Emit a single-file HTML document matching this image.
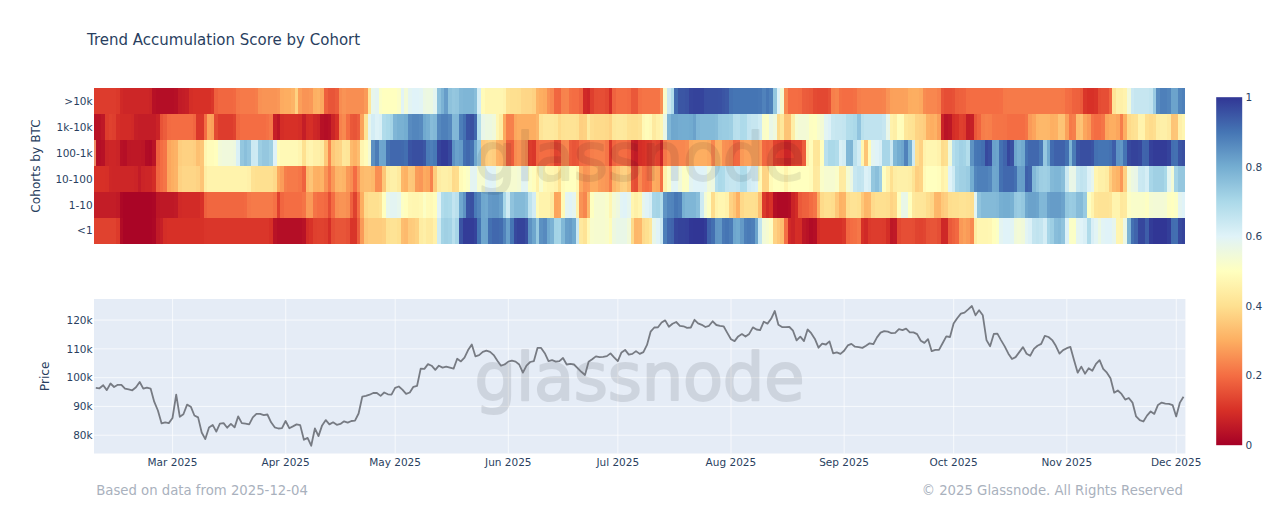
<!DOCTYPE html>
<html lang="en"><head><meta charset="utf-8"><title>Trend Accumulation Score by Cohort</title>
<style>
html,body{margin:0;padding:0;background:#fff}
body{width:1280px;height:526px;overflow:hidden;position:relative;font-family:"DejaVu Sans","Liberation Sans",sans-serif}
svg{position:absolute;left:0;top:0}
text{font-family:"DejaVu Sans","Liberation Sans",sans-serif;fill:#2a3f5f}
.tk{font-size:10.5px}
.ax{font-size:12.2px}
.ft{font-size:13.25px;fill:#a9b1bd}
</style></head><body>
<svg width="1280" height="526" viewBox="0 0 1280 526">
<defs>
<linearGradient id="cb" x1="0" y1="1" x2="0" y2="0">
<stop offset="0%" stop-color="#a50026"/><stop offset="10%" stop-color="#d73027"/><stop offset="20%" stop-color="#f46d43"/><stop offset="30%" stop-color="#fdae61"/><stop offset="40%" stop-color="#fee090"/><stop offset="50%" stop-color="#ffffbf"/><stop offset="60%" stop-color="#e0f3f8"/><stop offset="70%" stop-color="#abd9e9"/><stop offset="80%" stop-color="#74add1"/><stop offset="90%" stop-color="#4575b4"/><stop offset="100%" stop-color="#313695"/></linearGradient></defs>
<rect x="0" y="0" width="1280" height="526" fill="#fff"/>
<text x="87" y="44.6" style="font-size:15px">Trend Accumulation Score by Cohort</text>
<g shape-rendering="crispEdges">
<rect x="94.00" y="88.00" width="21.95" height="25.98" fill="#dd3c2d"/><rect x="115.90" y="88.00" width="3.70" height="25.98" fill="#db392b"/><rect x="119.55" y="88.00" width="3.70" height="25.98" fill="#d02927"/><rect x="123.20" y="88.00" width="25.60" height="25.98" fill="#cd2627"/><rect x="148.75" y="88.00" width="3.70" height="25.98" fill="#ca2427"/><rect x="152.40" y="88.00" width="3.70" height="25.98" fill="#b71126"/><rect x="156.05" y="88.00" width="18.30" height="25.98" fill="#b40e26"/><rect x="174.30" y="88.00" width="3.70" height="25.98" fill="#b61026"/><rect x="177.95" y="88.00" width="3.70" height="25.98" fill="#c11b27"/><rect x="181.60" y="88.00" width="3.70" height="25.98" fill="#c31d27"/><rect x="185.25" y="88.00" width="3.70" height="25.98" fill="#c61f27"/><rect x="188.90" y="88.00" width="3.70" height="25.98" fill="#d42e27"/><rect x="192.55" y="88.00" width="18.30" height="25.98" fill="#d73027"/><rect x="210.81" y="88.00" width="3.70" height="25.98" fill="#da372a"/><rect x="214.46" y="88.00" width="3.70" height="25.98" fill="#ee603d"/><rect x="218.11" y="88.00" width="14.65" height="25.98" fill="#f16740"/><rect x="232.71" y="88.00" width="3.70" height="25.98" fill="#f26941"/><rect x="236.36" y="88.00" width="3.70" height="25.98" fill="#f57748"/><rect x="240.01" y="88.00" width="14.65" height="25.98" fill="#f67a49"/><rect x="254.61" y="88.00" width="3.70" height="25.98" fill="#f67d4a"/><rect x="258.26" y="88.00" width="3.70" height="25.98" fill="#f99154"/><rect x="261.91" y="88.00" width="14.65" height="25.98" fill="#f99455"/><rect x="276.51" y="88.00" width="3.70" height="25.98" fill="#fa9757"/><rect x="280.16" y="88.00" width="3.70" height="25.98" fill="#fdab60"/><rect x="283.81" y="88.00" width="7.35" height="25.98" fill="#fdae61"/><rect x="291.11" y="88.00" width="3.70" height="25.98" fill="#fdb467"/><rect x="294.76" y="88.00" width="3.70" height="25.98" fill="#fed282"/><rect x="298.41" y="88.00" width="3.70" height="25.98" fill="#fb9f5a"/><rect x="302.06" y="88.00" width="7.35" height="25.98" fill="#f99455"/><rect x="309.36" y="88.00" width="3.70" height="25.98" fill="#fa9857"/><rect x="313.01" y="88.00" width="3.70" height="25.98" fill="#fdb063"/><rect x="316.66" y="88.00" width="3.70" height="25.98" fill="#fdb366"/><rect x="320.31" y="88.00" width="3.70" height="25.98" fill="#fca95f"/><rect x="323.96" y="88.00" width="3.70" height="25.98" fill="#ee603d"/><rect x="327.61" y="88.00" width="7.35" height="25.98" fill="#e85538"/><rect x="334.91" y="88.00" width="3.70" height="25.98" fill="#ec5c3b"/><rect x="338.56" y="88.00" width="3.70" height="25.98" fill="#f88c51"/><rect x="342.21" y="88.00" width="3.70" height="25.98" fill="#f99355"/><rect x="345.86" y="88.00" width="3.70" height="25.98" fill="#f98e52"/><rect x="349.51" y="88.00" width="14.65" height="25.98" fill="#f88e52"/><rect x="364.11" y="88.00" width="3.70" height="25.98" fill="#fa9a58"/><rect x="367.76" y="88.00" width="3.70" height="25.98" fill="#fee79a"/><rect x="371.41" y="88.00" width="3.70" height="25.98" fill="#e7f6eb"/><rect x="375.06" y="88.00" width="3.70" height="25.98" fill="#e4f4f1"/><rect x="378.71" y="88.00" width="3.70" height="25.98" fill="#fbfec6"/><rect x="382.36" y="88.00" width="14.65" height="25.98" fill="#ffffbf"/><rect x="396.96" y="88.00" width="3.70" height="25.98" fill="#fbfdc7"/><rect x="400.61" y="88.00" width="3.70" height="25.98" fill="#e2f4f5"/><rect x="404.26" y="88.00" width="3.70" height="25.98" fill="#f2fad7"/><rect x="407.91" y="88.00" width="3.70" height="25.98" fill="#e3f4f2"/><rect x="411.56" y="88.00" width="7.35" height="25.98" fill="#e0f3f8"/><rect x="418.86" y="88.00" width="3.70" height="25.98" fill="#e2f4f5"/><rect x="422.52" y="88.00" width="3.70" height="25.98" fill="#ebf7e4"/><rect x="426.17" y="88.00" width="7.35" height="25.98" fill="#ecf8e1"/><rect x="433.47" y="88.00" width="3.70" height="25.98" fill="#e4f5f0"/><rect x="437.12" y="88.00" width="3.70" height="25.98" fill="#8dc1dc"/><rect x="440.77" y="88.00" width="3.70" height="25.98" fill="#7bb2d4"/><rect x="444.42" y="88.00" width="3.70" height="25.98" fill="#679dc9"/><rect x="448.07" y="88.00" width="3.70" height="25.98" fill="#8ec2dc"/><rect x="451.72" y="88.00" width="3.70" height="25.98" fill="#95c7df"/><rect x="455.37" y="88.00" width="3.70" height="25.98" fill="#92c5de"/><rect x="459.02" y="88.00" width="3.70" height="25.98" fill="#82b8d7"/><rect x="462.67" y="88.00" width="11.00" height="25.98" fill="#7fb6d6"/><rect x="473.62" y="88.00" width="3.70" height="25.98" fill="#89beda"/><rect x="477.27" y="88.00" width="3.70" height="25.98" fill="#d5eef5"/><rect x="480.92" y="88.00" width="3.70" height="25.98" fill="#fffbb9"/><rect x="484.57" y="88.00" width="18.30" height="25.98" fill="#fff6b1"/><rect x="502.82" y="88.00" width="3.70" height="25.98" fill="#fff3ad"/><rect x="506.47" y="88.00" width="3.70" height="25.98" fill="#fee294"/><rect x="510.12" y="88.00" width="7.35" height="25.98" fill="#fee090"/><rect x="517.42" y="88.00" width="3.70" height="25.98" fill="#fedf8f"/><rect x="521.07" y="88.00" width="3.70" height="25.98" fill="#fed788"/><rect x="524.72" y="88.00" width="7.35" height="25.98" fill="#fed687"/><rect x="532.02" y="88.00" width="3.70" height="25.98" fill="#fed182"/><rect x="535.67" y="88.00" width="3.70" height="25.98" fill="#fdb366"/><rect x="539.32" y="88.00" width="3.70" height="25.98" fill="#fdae61"/><rect x="542.97" y="88.00" width="3.70" height="25.98" fill="#fcaa5f"/><rect x="546.62" y="88.00" width="3.70" height="25.98" fill="#f99154"/><rect x="550.27" y="88.00" width="3.70" height="25.98" fill="#f88850"/><rect x="553.92" y="88.00" width="3.70" height="25.98" fill="#f16640"/><rect x="557.57" y="88.00" width="3.70" height="25.98" fill="#f0653f"/><rect x="561.22" y="88.00" width="3.70" height="25.98" fill="#f7824d"/><rect x="564.87" y="88.00" width="3.70" height="25.98" fill="#f7844d"/><rect x="568.52" y="88.00" width="3.70" height="25.98" fill="#f47044"/><rect x="572.17" y="88.00" width="7.35" height="25.98" fill="#f46d43"/><rect x="579.47" y="88.00" width="3.70" height="25.98" fill="#ef633f"/><rect x="583.12" y="88.00" width="3.70" height="25.98" fill="#d02927"/><rect x="586.77" y="88.00" width="3.70" height="25.98" fill="#cc2527"/><rect x="590.42" y="88.00" width="3.70" height="25.98" fill="#de3f2e"/><rect x="594.07" y="88.00" width="3.70" height="25.98" fill="#e54d34"/><rect x="597.72" y="88.00" width="7.35" height="25.98" fill="#e64e35"/><rect x="605.02" y="88.00" width="3.70" height="25.98" fill="#e34832"/><rect x="608.67" y="88.00" width="3.70" height="25.98" fill="#d42e27"/><rect x="612.32" y="88.00" width="3.70" height="25.98" fill="#ef633f"/><rect x="615.97" y="88.00" width="11.00" height="25.98" fill="#f46d43"/><rect x="626.92" y="88.00" width="3.70" height="25.98" fill="#f36a42"/><rect x="630.57" y="88.00" width="7.35" height="25.98" fill="#ea5839"/><rect x="637.87" y="88.00" width="3.70" height="25.98" fill="#f47044"/><rect x="641.53" y="88.00" width="18.30" height="25.98" fill="#f57446"/><rect x="659.78" y="88.00" width="3.70" height="25.98" fill="#f98e52"/><rect x="663.43" y="88.00" width="3.70" height="25.98" fill="#f8fccb"/><rect x="667.08" y="88.00" width="3.70" height="25.98" fill="#cce9f2"/><rect x="670.73" y="88.00" width="3.70" height="25.98" fill="#b2ddeb"/><rect x="674.38" y="88.00" width="3.70" height="25.98" fill="#426cb0"/><rect x="678.03" y="88.00" width="7.35" height="25.98" fill="#3b56a4"/><rect x="685.33" y="88.00" width="3.70" height="25.98" fill="#3a53a3"/><rect x="688.98" y="88.00" width="3.70" height="25.98" fill="#36459c"/><rect x="692.63" y="88.00" width="7.35" height="25.98" fill="#35439b"/><rect x="699.93" y="88.00" width="3.70" height="25.98" fill="#35449c"/><rect x="703.58" y="88.00" width="3.70" height="25.98" fill="#394ea1"/><rect x="707.23" y="88.00" width="11.00" height="25.98" fill="#394fa1"/><rect x="718.18" y="88.00" width="3.70" height="25.98" fill="#3950a2"/><rect x="721.83" y="88.00" width="3.70" height="25.98" fill="#3b55a4"/><rect x="725.48" y="88.00" width="3.70" height="25.98" fill="#3c59a6"/><rect x="729.13" y="88.00" width="3.70" height="25.98" fill="#4471b2"/><rect x="732.78" y="88.00" width="25.60" height="25.98" fill="#4575b4"/><rect x="758.33" y="88.00" width="3.70" height="25.98" fill="#4777b5"/><rect x="761.98" y="88.00" width="3.70" height="25.98" fill="#5082bb"/><rect x="765.63" y="88.00" width="3.70" height="25.98" fill="#4777b5"/><rect x="769.28" y="88.00" width="3.70" height="25.98" fill="#4e80ba"/><rect x="772.93" y="88.00" width="3.70" height="25.98" fill="#95c7df"/><rect x="776.58" y="88.00" width="3.70" height="25.98" fill="#e0f3f7"/><rect x="780.23" y="88.00" width="3.70" height="25.98" fill="#f4fbd2"/><rect x="783.88" y="88.00" width="3.70" height="25.98" fill="#f88b51"/><rect x="787.53" y="88.00" width="11.00" height="25.98" fill="#f46d43"/><rect x="798.48" y="88.00" width="3.70" height="25.98" fill="#f36b42"/><rect x="802.13" y="88.00" width="3.70" height="25.98" fill="#ec5d3c"/><rect x="805.78" y="88.00" width="3.70" height="25.98" fill="#eb5b3b"/><rect x="809.43" y="88.00" width="3.70" height="25.98" fill="#ea5839"/><rect x="813.08" y="88.00" width="3.70" height="25.98" fill="#e44b33"/><rect x="816.73" y="88.00" width="11.00" height="25.98" fill="#e34832"/><rect x="827.68" y="88.00" width="3.70" height="25.98" fill="#e65036"/><rect x="831.33" y="88.00" width="3.70" height="25.98" fill="#f77f4b"/><rect x="834.98" y="88.00" width="3.70" height="25.98" fill="#f7844d"/><rect x="838.63" y="88.00" width="3.70" height="25.98" fill="#f47044"/><rect x="842.28" y="88.00" width="11.00" height="25.98" fill="#f46d43"/><rect x="853.23" y="88.00" width="3.70" height="25.98" fill="#f47044"/><rect x="856.88" y="88.00" width="3.70" height="25.98" fill="#f67e4b"/><rect x="860.54" y="88.00" width="21.95" height="25.98" fill="#f7814c"/><rect x="882.44" y="88.00" width="3.70" height="25.98" fill="#f7834d"/><rect x="886.09" y="88.00" width="3.70" height="25.98" fill="#f99355"/><rect x="889.74" y="88.00" width="3.70" height="25.98" fill="#fba05a"/><rect x="893.39" y="88.00" width="11.00" height="25.98" fill="#fba15b"/><rect x="904.34" y="88.00" width="3.70" height="25.98" fill="#fba25c"/><rect x="907.99" y="88.00" width="3.70" height="25.98" fill="#fdad60"/><rect x="911.64" y="88.00" width="7.35" height="25.98" fill="#fdae61"/><rect x="918.94" y="88.00" width="3.70" height="25.98" fill="#fca95f"/><rect x="922.59" y="88.00" width="3.70" height="25.98" fill="#f88c51"/><rect x="926.24" y="88.00" width="11.00" height="25.98" fill="#f8874f"/><rect x="937.19" y="88.00" width="3.70" height="25.98" fill="#f7804c"/><rect x="940.84" y="88.00" width="3.70" height="25.98" fill="#e95538"/><rect x="944.49" y="88.00" width="7.35" height="25.98" fill="#e64e35"/><rect x="951.79" y="88.00" width="3.70" height="25.98" fill="#e75136"/><rect x="955.44" y="88.00" width="3.70" height="25.98" fill="#ed5e3c"/><rect x="959.09" y="88.00" width="3.70" height="25.98" fill="#ee613d"/><rect x="962.74" y="88.00" width="3.70" height="25.98" fill="#ef623e"/><rect x="966.39" y="88.00" width="3.70" height="25.98" fill="#f36c42"/><rect x="970.04" y="88.00" width="29.25" height="25.98" fill="#f46d43"/><rect x="999.24" y="88.00" width="3.70" height="25.98" fill="#f46e44"/><rect x="1002.89" y="88.00" width="3.70" height="25.98" fill="#f67948"/><rect x="1006.54" y="88.00" width="54.80" height="25.98" fill="#f67a49"/><rect x="1061.29" y="88.00" width="3.70" height="25.98" fill="#f67948"/><rect x="1064.94" y="88.00" width="3.70" height="25.98" fill="#f46e44"/><rect x="1068.59" y="88.00" width="3.70" height="25.98" fill="#f36c42"/><rect x="1072.24" y="88.00" width="3.70" height="25.98" fill="#ef623e"/><rect x="1075.89" y="88.00" width="3.70" height="25.98" fill="#ee613d"/><rect x="1079.55" y="88.00" width="3.70" height="25.98" fill="#eb5b3b"/><rect x="1083.20" y="88.00" width="3.70" height="25.98" fill="#da362a"/><rect x="1086.85" y="88.00" width="7.35" height="25.98" fill="#d73027"/><rect x="1094.15" y="88.00" width="3.70" height="25.98" fill="#d93429"/><rect x="1097.80" y="88.00" width="3.70" height="25.98" fill="#e44b33"/><rect x="1101.45" y="88.00" width="7.35" height="25.98" fill="#e64e35"/><rect x="1108.75" y="88.00" width="3.70" height="25.98" fill="#f0643f"/><rect x="1112.40" y="88.00" width="3.70" height="25.98" fill="#fee497"/><rect x="1116.05" y="88.00" width="7.35" height="25.98" fill="#fef0a8"/><rect x="1123.35" y="88.00" width="3.70" height="25.98" fill="#fff3ad"/><rect x="1127.00" y="88.00" width="3.70" height="25.98" fill="#f0f9dc"/><rect x="1130.65" y="88.00" width="3.70" height="25.98" fill="#cce9f2"/><rect x="1134.30" y="88.00" width="14.65" height="25.98" fill="#c6e6f0"/><rect x="1148.90" y="88.00" width="3.70" height="25.98" fill="#c1e4ef"/><rect x="1152.55" y="88.00" width="3.70" height="25.98" fill="#9acbe2"/><rect x="1156.20" y="88.00" width="3.70" height="25.98" fill="#578bbf"/><rect x="1159.85" y="88.00" width="7.35" height="25.98" fill="#4e80ba"/><rect x="1167.15" y="88.00" width="3.70" height="25.98" fill="#5285bc"/><rect x="1170.80" y="88.00" width="7.35" height="25.98" fill="#6ca3cc"/><rect x="1178.10" y="88.00" width="3.70" height="25.98" fill="#5285bc"/><rect x="1181.75" y="88.00" width="3.70" height="25.98" fill="#4e80ba"/>
<rect x="94.00" y="113.93" width="7.35" height="25.98" fill="#b91326"/><rect x="101.30" y="113.93" width="3.70" height="25.98" fill="#be1827"/><rect x="104.95" y="113.93" width="3.70" height="25.98" fill="#dd3c2c"/><rect x="108.60" y="113.93" width="3.70" height="25.98" fill="#e0422f"/><rect x="112.25" y="113.93" width="3.70" height="25.98" fill="#de3f2e"/><rect x="115.90" y="113.93" width="3.70" height="25.98" fill="#d42e27"/><rect x="119.55" y="113.93" width="11.00" height="25.98" fill="#d22b27"/><rect x="130.50" y="113.93" width="3.70" height="25.98" fill="#d02927"/><rect x="134.15" y="113.93" width="3.70" height="25.98" fill="#c51f27"/><rect x="137.80" y="113.93" width="18.30" height="25.98" fill="#c31d27"/><rect x="156.05" y="113.93" width="3.70" height="25.98" fill="#ca2327"/><rect x="159.70" y="113.93" width="3.70" height="25.98" fill="#e85337"/><rect x="163.35" y="113.93" width="3.70" height="25.98" fill="#ec5d3c"/><rect x="167.00" y="113.93" width="3.70" height="25.98" fill="#f36b42"/><rect x="170.65" y="113.93" width="21.95" height="25.98" fill="#f46d43"/><rect x="192.55" y="113.93" width="3.70" height="25.98" fill="#f16640"/><rect x="196.20" y="113.93" width="7.35" height="25.98" fill="#da372a"/><rect x="203.51" y="113.93" width="3.70" height="25.98" fill="#f46d43"/><rect x="207.16" y="113.93" width="3.70" height="25.98" fill="#fca65d"/><rect x="210.81" y="113.93" width="3.70" height="25.98" fill="#fba05a"/><rect x="214.46" y="113.93" width="3.70" height="25.98" fill="#e34a33"/><rect x="218.11" y="113.93" width="14.65" height="25.98" fill="#dd3c2d"/><rect x="232.71" y="113.93" width="3.70" height="25.98" fill="#e0422f"/><rect x="236.36" y="113.93" width="3.70" height="25.98" fill="#f16740"/><rect x="240.01" y="113.93" width="25.60" height="25.98" fill="#f46d43"/><rect x="265.56" y="113.93" width="3.70" height="25.98" fill="#f57145"/><rect x="269.21" y="113.93" width="3.70" height="25.98" fill="#f67949"/><rect x="272.86" y="113.93" width="3.70" height="25.98" fill="#c61f27"/><rect x="276.51" y="113.93" width="3.70" height="25.98" fill="#bc1726"/><rect x="280.16" y="113.93" width="3.70" height="25.98" fill="#d42d27"/><rect x="283.81" y="113.93" width="14.65" height="25.98" fill="#d73027"/><rect x="298.41" y="113.93" width="3.70" height="25.98" fill="#d42d27"/><rect x="302.06" y="113.93" width="3.70" height="25.98" fill="#c41e27"/><rect x="305.71" y="113.93" width="3.70" height="25.98" fill="#d42d27"/><rect x="309.36" y="113.93" width="3.70" height="25.98" fill="#d62f27"/><rect x="313.01" y="113.93" width="3.70" height="25.98" fill="#ce2727"/><rect x="316.66" y="113.93" width="3.70" height="25.98" fill="#ca2427"/><rect x="320.31" y="113.93" width="3.70" height="25.98" fill="#b71126"/><rect x="323.96" y="113.93" width="3.70" height="25.98" fill="#b40e26"/><rect x="327.61" y="113.93" width="3.70" height="25.98" fill="#b71126"/><rect x="331.26" y="113.93" width="3.70" height="25.98" fill="#ca2427"/><rect x="334.91" y="113.93" width="3.70" height="25.98" fill="#d73027"/><rect x="338.56" y="113.93" width="3.70" height="25.98" fill="#f7814c"/><rect x="342.21" y="113.93" width="3.70" height="25.98" fill="#f88a50"/><rect x="345.86" y="113.93" width="3.70" height="25.98" fill="#f46e43"/><rect x="349.51" y="113.93" width="3.70" height="25.98" fill="#ea5839"/><rect x="353.16" y="113.93" width="3.70" height="25.98" fill="#e85538"/><rect x="356.81" y="113.93" width="3.70" height="25.98" fill="#ec5d3c"/><rect x="360.46" y="113.93" width="3.70" height="25.98" fill="#fba15b"/><rect x="364.11" y="113.93" width="3.70" height="25.98" fill="#fee395"/><rect x="367.76" y="113.93" width="3.70" height="25.98" fill="#e6f5ed"/><rect x="371.41" y="113.93" width="3.70" height="25.98" fill="#d4edf5"/><rect x="375.06" y="113.93" width="3.70" height="25.98" fill="#def2f7"/><rect x="378.71" y="113.93" width="3.70" height="25.98" fill="#daf0f6"/><rect x="382.36" y="113.93" width="3.70" height="25.98" fill="#b1dceb"/><rect x="386.01" y="113.93" width="3.70" height="25.98" fill="#abd9e9"/><rect x="389.66" y="113.93" width="3.70" height="25.98" fill="#a5d4e6"/><rect x="393.31" y="113.93" width="3.70" height="25.98" fill="#80b6d6"/><rect x="396.96" y="113.93" width="7.35" height="25.98" fill="#79b1d3"/><rect x="404.26" y="113.93" width="3.70" height="25.98" fill="#74add1"/><rect x="407.91" y="113.93" width="3.70" height="25.98" fill="#588bc0"/><rect x="411.56" y="113.93" width="7.35" height="25.98" fill="#5386bd"/><rect x="418.86" y="113.93" width="3.70" height="25.98" fill="#578abf"/><rect x="422.52" y="113.93" width="3.70" height="25.98" fill="#70a9cf"/><rect x="426.17" y="113.93" width="3.70" height="25.98" fill="#77afd2"/><rect x="429.82" y="113.93" width="3.70" height="25.98" fill="#87bcd9"/><rect x="433.47" y="113.93" width="3.70" height="25.98" fill="#82b8d7"/><rect x="437.12" y="113.93" width="3.70" height="25.98" fill="#5588be"/><rect x="440.77" y="113.93" width="7.35" height="25.98" fill="#4e80ba"/><rect x="448.07" y="113.93" width="3.70" height="25.98" fill="#5588be"/><rect x="451.72" y="113.93" width="3.70" height="25.98" fill="#82b8d7"/><rect x="455.37" y="113.93" width="3.70" height="25.98" fill="#81b7d7"/><rect x="459.02" y="113.93" width="3.70" height="25.98" fill="#4d7fb9"/><rect x="462.67" y="113.93" width="3.70" height="25.98" fill="#4471b2"/><rect x="466.32" y="113.93" width="3.70" height="25.98" fill="#3a54a4"/><rect x="469.97" y="113.93" width="3.70" height="25.98" fill="#394fa1"/><rect x="473.62" y="113.93" width="3.70" height="25.98" fill="#4066ad"/><rect x="477.27" y="113.93" width="3.70" height="25.98" fill="#b3ddeb"/><rect x="480.92" y="113.93" width="3.70" height="25.98" fill="#e9f6e8"/><rect x="484.57" y="113.93" width="7.35" height="25.98" fill="#ecf8e1"/><rect x="491.87" y="113.93" width="3.70" height="25.98" fill="#f0f9da"/><rect x="495.52" y="113.93" width="3.70" height="25.98" fill="#fff6b2"/><rect x="499.17" y="113.93" width="3.70" height="25.98" fill="#feeca2"/><rect x="502.82" y="113.93" width="3.70" height="25.98" fill="#fcaa5f"/><rect x="506.47" y="113.93" width="3.70" height="25.98" fill="#f67f4b"/><rect x="510.12" y="113.93" width="3.70" height="25.98" fill="#f7814c"/><rect x="513.77" y="113.93" width="3.70" height="25.98" fill="#fca85e"/><rect x="517.42" y="113.93" width="18.30" height="25.98" fill="#fdae61"/><rect x="535.67" y="113.93" width="3.70" height="25.98" fill="#fdb669"/><rect x="539.32" y="113.93" width="3.70" height="25.98" fill="#fee497"/><rect x="542.97" y="113.93" width="11.00" height="25.98" fill="#fee99e"/><rect x="553.92" y="113.93" width="3.70" height="25.98" fill="#fee79b"/><rect x="557.57" y="113.93" width="3.70" height="25.98" fill="#fedb8b"/><rect x="561.22" y="113.93" width="3.70" height="25.98" fill="#fee293"/><rect x="564.87" y="113.93" width="11.00" height="25.98" fill="#fee395"/><rect x="575.82" y="113.93" width="3.70" height="25.98" fill="#fee192"/><rect x="579.47" y="113.93" width="3.70" height="25.98" fill="#fecf80"/><rect x="583.12" y="113.93" width="3.70" height="25.98" fill="#fed282"/><rect x="586.77" y="113.93" width="3.70" height="25.98" fill="#feea9f"/><rect x="590.42" y="113.93" width="3.70" height="25.98" fill="#fede8f"/><rect x="594.07" y="113.93" width="11.00" height="25.98" fill="#fedb8b"/><rect x="605.02" y="113.93" width="3.70" height="25.98" fill="#fed989"/><rect x="608.67" y="113.93" width="3.70" height="25.98" fill="#fed283"/><rect x="612.32" y="113.93" width="3.70" height="25.98" fill="#fee79a"/><rect x="615.97" y="113.93" width="7.35" height="25.98" fill="#fee99e"/><rect x="623.27" y="113.93" width="3.70" height="25.98" fill="#fee89c"/><rect x="626.92" y="113.93" width="3.70" height="25.98" fill="#fee192"/><rect x="630.57" y="113.93" width="7.35" height="25.98" fill="#fee090"/><rect x="637.87" y="113.93" width="3.70" height="25.98" fill="#fee395"/><rect x="641.53" y="113.93" width="3.70" height="25.98" fill="#fff8b5"/><rect x="645.18" y="113.93" width="3.70" height="25.98" fill="#fffcba"/><rect x="648.83" y="113.93" width="3.70" height="25.98" fill="#fff9b7"/><rect x="652.48" y="113.93" width="3.70" height="25.98" fill="#feeaa0"/><rect x="656.13" y="113.93" width="3.70" height="25.98" fill="#fff1aa"/><rect x="659.78" y="113.93" width="3.70" height="25.98" fill="#fff6b1"/><rect x="663.43" y="113.93" width="3.70" height="25.98" fill="#e9f7e7"/><rect x="667.08" y="113.93" width="3.70" height="25.98" fill="#80b6d6"/><rect x="670.73" y="113.93" width="3.70" height="25.98" fill="#6fa7ce"/><rect x="674.38" y="113.93" width="3.70" height="25.98" fill="#70a8ce"/><rect x="678.03" y="113.93" width="3.70" height="25.98" fill="#74acd1"/><rect x="681.68" y="113.93" width="7.35" height="25.98" fill="#74add1"/><rect x="688.98" y="113.93" width="3.70" height="25.98" fill="#72abd0"/><rect x="692.63" y="113.93" width="3.70" height="25.98" fill="#6ba2cb"/><rect x="696.28" y="113.93" width="3.70" height="25.98" fill="#81b7d7"/><rect x="699.93" y="113.93" width="14.65" height="25.98" fill="#84bad8"/><rect x="714.53" y="113.93" width="3.70" height="25.98" fill="#87bcd9"/><rect x="718.18" y="113.93" width="3.70" height="25.98" fill="#98cae1"/><rect x="721.83" y="113.93" width="7.35" height="25.98" fill="#9acce2"/><rect x="729.13" y="113.93" width="3.70" height="25.98" fill="#9ecfe3"/><rect x="732.78" y="113.93" width="3.70" height="25.98" fill="#b7dfec"/><rect x="736.43" y="113.93" width="3.70" height="25.98" fill="#b9e0ed"/><rect x="740.08" y="113.93" width="3.70" height="25.98" fill="#addaea"/><rect x="743.73" y="113.93" width="3.70" height="25.98" fill="#aedbea"/><rect x="747.38" y="113.93" width="3.70" height="25.98" fill="#c2e4f0"/><rect x="751.03" y="113.93" width="7.35" height="25.98" fill="#c6e6f0"/><rect x="758.33" y="113.93" width="3.70" height="25.98" fill="#cfebf3"/><rect x="761.98" y="113.93" width="3.70" height="25.98" fill="#f9fdc9"/><rect x="765.63" y="113.93" width="3.70" height="25.98" fill="#fcfec5"/><rect x="769.28" y="113.93" width="3.70" height="25.98" fill="#e9f7e7"/><rect x="772.93" y="113.93" width="3.70" height="25.98" fill="#eff9dd"/><rect x="776.58" y="113.93" width="3.70" height="25.98" fill="#fedb8b"/><rect x="780.23" y="113.93" width="3.70" height="25.98" fill="#fee79b"/><rect x="783.88" y="113.93" width="7.35" height="25.98" fill="#fdc476"/><rect x="791.18" y="113.93" width="3.70" height="25.98" fill="#feeea6"/><rect x="794.83" y="113.93" width="3.70" height="25.98" fill="#f6fcd0"/><rect x="798.48" y="113.93" width="7.35" height="25.98" fill="#f3fad6"/><rect x="805.78" y="113.93" width="3.70" height="25.98" fill="#f4fbd3"/><rect x="809.43" y="113.93" width="3.70" height="25.98" fill="#fdfec2"/><rect x="813.08" y="113.93" width="3.70" height="25.98" fill="#feffc1"/><rect x="816.73" y="113.93" width="3.70" height="25.98" fill="#f7fcce"/><rect x="820.38" y="113.93" width="3.70" height="25.98" fill="#f3fad5"/><rect x="824.03" y="113.93" width="3.70" height="25.98" fill="#e2f4f3"/><rect x="827.68" y="113.93" width="3.70" height="25.98" fill="#ddf1f7"/><rect x="831.33" y="113.93" width="3.70" height="25.98" fill="#c9e8f1"/><rect x="834.98" y="113.93" width="7.35" height="25.98" fill="#c6e6f0"/><rect x="842.28" y="113.93" width="3.70" height="25.98" fill="#c3e5f0"/><rect x="845.93" y="113.93" width="3.70" height="25.98" fill="#b3ddeb"/><rect x="849.58" y="113.93" width="3.70" height="25.98" fill="#b0dcea"/><rect x="853.23" y="113.93" width="3.70" height="25.98" fill="#abd9e9"/><rect x="856.88" y="113.93" width="3.70" height="25.98" fill="#91c4de"/><rect x="860.54" y="113.93" width="3.70" height="25.98" fill="#b9e0ed"/><rect x="864.19" y="113.93" width="18.30" height="25.98" fill="#c0e3ef"/><rect x="882.44" y="113.93" width="3.70" height="25.98" fill="#c6e6f0"/><rect x="886.09" y="113.93" width="3.70" height="25.98" fill="#e8f6e9"/><rect x="889.74" y="113.93" width="3.70" height="25.98" fill="#fff2ab"/><rect x="893.39" y="113.93" width="3.70" height="25.98" fill="#feefa6"/><rect x="897.04" y="113.93" width="3.70" height="25.98" fill="#fffdbc"/><rect x="900.69" y="113.93" width="3.70" height="25.98" fill="#fffcba"/><rect x="904.34" y="113.93" width="3.70" height="25.98" fill="#fee79a"/><rect x="907.99" y="113.93" width="3.70" height="25.98" fill="#fee395"/><rect x="911.64" y="113.93" width="3.70" height="25.98" fill="#fee292"/><rect x="915.29" y="113.93" width="3.70" height="25.98" fill="#fed484"/><rect x="918.94" y="113.93" width="3.70" height="25.98" fill="#fed182"/><rect x="922.59" y="113.93" width="3.70" height="25.98" fill="#fecd7e"/><rect x="926.24" y="113.93" width="3.70" height="25.98" fill="#fdb265"/><rect x="929.89" y="113.93" width="3.70" height="25.98" fill="#fdae61"/><rect x="933.54" y="113.93" width="3.70" height="25.98" fill="#fdb265"/><rect x="937.19" y="113.93" width="3.70" height="25.98" fill="#fba05a"/><rect x="940.84" y="113.93" width="3.70" height="25.98" fill="#c92327"/><rect x="944.49" y="113.93" width="3.70" height="25.98" fill="#b91326"/><rect x="948.14" y="113.93" width="3.70" height="25.98" fill="#bc1726"/><rect x="951.79" y="113.93" width="3.70" height="25.98" fill="#d42d27"/><rect x="955.44" y="113.93" width="3.70" height="25.98" fill="#d83228"/><rect x="959.09" y="113.93" width="3.70" height="25.98" fill="#df402e"/><rect x="962.74" y="113.93" width="3.70" height="25.98" fill="#dd3c2d"/><rect x="966.39" y="113.93" width="3.70" height="25.98" fill="#c31d27"/><rect x="970.04" y="113.93" width="3.70" height="25.98" fill="#c62027"/><rect x="973.69" y="113.93" width="3.70" height="25.98" fill="#ea5739"/><rect x="977.34" y="113.93" width="3.70" height="25.98" fill="#f0643f"/><rect x="980.99" y="113.93" width="3.70" height="25.98" fill="#f67d4a"/><rect x="984.64" y="113.93" width="3.70" height="25.98" fill="#f7814c"/><rect x="988.29" y="113.93" width="3.70" height="25.98" fill="#f77f4b"/><rect x="991.94" y="113.93" width="3.70" height="25.98" fill="#f57547"/><rect x="995.59" y="113.93" width="7.35" height="25.98" fill="#f57446"/><rect x="1002.89" y="113.93" width="3.70" height="25.98" fill="#f57346"/><rect x="1006.54" y="113.93" width="3.70" height="25.98" fill="#f46e43"/><rect x="1010.19" y="113.93" width="14.65" height="25.98" fill="#f46d43"/><rect x="1024.79" y="113.93" width="3.70" height="25.98" fill="#f57446"/><rect x="1028.44" y="113.93" width="3.70" height="25.98" fill="#fa9a58"/><rect x="1032.09" y="113.93" width="3.70" height="25.98" fill="#fca45c"/><rect x="1035.74" y="113.93" width="3.70" height="25.98" fill="#fdb668"/><rect x="1039.39" y="113.93" width="7.35" height="25.98" fill="#fdb86a"/><rect x="1046.69" y="113.93" width="3.70" height="25.98" fill="#fdb769"/><rect x="1050.34" y="113.93" width="3.70" height="25.98" fill="#fdaf62"/><rect x="1053.99" y="113.93" width="3.70" height="25.98" fill="#fdb164"/><rect x="1057.64" y="113.93" width="3.70" height="25.98" fill="#fdc476"/><rect x="1061.29" y="113.93" width="3.70" height="25.98" fill="#fdc375"/><rect x="1064.94" y="113.93" width="3.70" height="25.98" fill="#fba15b"/><rect x="1068.59" y="113.93" width="3.70" height="25.98" fill="#f67948"/><rect x="1072.24" y="113.93" width="3.70" height="25.98" fill="#f67f4b"/><rect x="1075.89" y="113.93" width="3.70" height="25.98" fill="#fdbe71"/><rect x="1079.55" y="113.93" width="3.70" height="25.98" fill="#fdc375"/><rect x="1083.20" y="113.93" width="3.70" height="25.98" fill="#fca65d"/><rect x="1086.85" y="113.93" width="3.70" height="25.98" fill="#fa9a58"/><rect x="1090.50" y="113.93" width="3.70" height="25.98" fill="#f57446"/><rect x="1094.15" y="113.93" width="7.35" height="25.98" fill="#f46d43"/><rect x="1101.45" y="113.93" width="3.70" height="25.98" fill="#f57547"/><rect x="1105.10" y="113.93" width="3.70" height="25.98" fill="#fca65d"/><rect x="1108.75" y="113.93" width="7.35" height="25.98" fill="#fdae61"/><rect x="1116.05" y="113.93" width="3.70" height="25.98" fill="#fca65d"/><rect x="1119.70" y="113.93" width="3.70" height="25.98" fill="#f67d4a"/><rect x="1123.35" y="113.93" width="3.70" height="25.98" fill="#fdae61"/><rect x="1127.00" y="113.93" width="3.70" height="25.98" fill="#feda8a"/><rect x="1130.65" y="113.93" width="3.70" height="25.98" fill="#fee090"/><rect x="1134.30" y="113.93" width="3.70" height="25.98" fill="#fee294"/><rect x="1137.95" y="113.93" width="3.70" height="25.98" fill="#fff3ad"/><rect x="1141.60" y="113.93" width="3.70" height="25.98" fill="#fff3ac"/><rect x="1145.25" y="113.93" width="3.70" height="25.98" fill="#fee090"/><rect x="1148.90" y="113.93" width="3.70" height="25.98" fill="#fedb8b"/><rect x="1152.55" y="113.93" width="3.70" height="25.98" fill="#fede8f"/><rect x="1156.20" y="113.93" width="3.70" height="25.98" fill="#feeda4"/><rect x="1159.85" y="113.93" width="7.35" height="25.98" fill="#fef0a8"/><rect x="1167.15" y="113.93" width="3.70" height="25.98" fill="#feeba1"/><rect x="1170.80" y="113.93" width="3.70" height="25.98" fill="#fdc476"/><rect x="1174.45" y="113.93" width="3.70" height="25.98" fill="#fdc677"/><rect x="1178.10" y="113.93" width="3.70" height="25.98" fill="#fff0a9"/><rect x="1181.75" y="113.93" width="3.70" height="25.98" fill="#fff6b1"/>
<rect x="94.00" y="139.87" width="7.35" height="25.98" fill="#b40e26"/><rect x="101.30" y="139.87" width="3.70" height="25.98" fill="#b71126"/><rect x="104.95" y="139.87" width="3.70" height="25.98" fill="#ca2427"/><rect x="108.60" y="139.87" width="7.35" height="25.98" fill="#cd2627"/><rect x="115.90" y="139.87" width="3.70" height="25.98" fill="#ca2427"/><rect x="119.55" y="139.87" width="3.70" height="25.98" fill="#b71126"/><rect x="123.20" y="139.87" width="3.70" height="25.98" fill="#b50f26"/><rect x="126.85" y="139.87" width="3.70" height="25.98" fill="#bd1726"/><rect x="130.50" y="139.87" width="11.00" height="25.98" fill="#be1826"/><rect x="141.45" y="139.87" width="3.70" height="25.98" fill="#bc1626"/><rect x="145.10" y="139.87" width="3.70" height="25.98" fill="#b10c26"/><rect x="148.75" y="139.87" width="3.70" height="25.98" fill="#af0a26"/><rect x="152.40" y="139.87" width="3.70" height="25.98" fill="#ba1426"/><rect x="156.05" y="139.87" width="3.70" height="25.98" fill="#ee603d"/><rect x="159.70" y="139.87" width="3.70" height="25.98" fill="#f46d43"/><rect x="163.35" y="139.87" width="3.70" height="25.98" fill="#f57547"/><rect x="167.00" y="139.87" width="3.70" height="25.98" fill="#fca65d"/><rect x="170.65" y="139.87" width="3.70" height="25.98" fill="#fdae61"/><rect x="174.30" y="139.87" width="3.70" height="25.98" fill="#fdb265"/><rect x="177.95" y="139.87" width="3.70" height="25.98" fill="#fecd7e"/><rect x="181.60" y="139.87" width="11.00" height="25.98" fill="#fed182"/><rect x="192.55" y="139.87" width="3.70" height="25.98" fill="#fece80"/><rect x="196.20" y="139.87" width="3.70" height="25.98" fill="#fdc071"/><rect x="199.85" y="139.87" width="3.70" height="25.98" fill="#fdc678"/><rect x="203.51" y="139.87" width="3.70" height="25.98" fill="#fff6b1"/><rect x="207.16" y="139.87" width="7.35" height="25.98" fill="#fffcba"/><rect x="214.46" y="139.87" width="3.70" height="25.98" fill="#fffebe"/><rect x="218.11" y="139.87" width="3.70" height="25.98" fill="#f2fad8"/><rect x="221.76" y="139.87" width="11.00" height="25.98" fill="#f0f9dc"/><rect x="232.71" y="139.87" width="3.70" height="25.98" fill="#eef8df"/><rect x="236.36" y="139.87" width="3.70" height="25.98" fill="#d9f0f6"/><rect x="240.01" y="139.87" width="3.70" height="25.98" fill="#94c7df"/><rect x="243.66" y="139.87" width="3.70" height="25.98" fill="#8abfdb"/><rect x="247.31" y="139.87" width="3.70" height="25.98" fill="#93c6df"/><rect x="250.96" y="139.87" width="3.70" height="25.98" fill="#cce9f2"/><rect x="254.61" y="139.87" width="3.70" height="25.98" fill="#ceeaf3"/><rect x="258.26" y="139.87" width="3.70" height="25.98" fill="#9dcee3"/><rect x="261.91" y="139.87" width="7.35" height="25.98" fill="#95c7df"/><rect x="269.21" y="139.87" width="3.70" height="25.98" fill="#9ecfe3"/><rect x="272.86" y="139.87" width="3.70" height="25.98" fill="#dff2f8"/><rect x="276.51" y="139.87" width="3.70" height="25.98" fill="#fffdbc"/><rect x="280.16" y="139.87" width="18.30" height="25.98" fill="#fff9b6"/><rect x="298.41" y="139.87" width="3.70" height="25.98" fill="#fff5b0"/><rect x="302.06" y="139.87" width="3.70" height="25.98" fill="#fee191"/><rect x="305.71" y="139.87" width="3.70" height="25.98" fill="#fff2ac"/><rect x="309.36" y="139.87" width="3.70" height="25.98" fill="#fff5b0"/><rect x="313.01" y="139.87" width="3.70" height="25.98" fill="#fff0a8"/><rect x="316.66" y="139.87" width="3.70" height="25.98" fill="#fef0a8"/><rect x="320.31" y="139.87" width="3.70" height="25.98" fill="#feeca2"/><rect x="323.96" y="139.87" width="3.70" height="25.98" fill="#fec879"/><rect x="327.61" y="139.87" width="3.70" height="25.98" fill="#f8874f"/><rect x="331.26" y="139.87" width="3.70" height="25.98" fill="#fec778"/><rect x="334.91" y="139.87" width="3.70" height="25.98" fill="#fed182"/><rect x="338.56" y="139.87" width="3.70" height="25.98" fill="#fed485"/><rect x="342.21" y="139.87" width="3.70" height="25.98" fill="#fee79b"/><rect x="345.86" y="139.87" width="3.70" height="25.98" fill="#fee598"/><rect x="349.51" y="139.87" width="3.70" height="25.98" fill="#fdba6c"/><rect x="353.16" y="139.87" width="3.70" height="25.98" fill="#fdb366"/><rect x="356.81" y="139.87" width="3.70" height="25.98" fill="#fdbe70"/><rect x="360.46" y="139.87" width="3.70" height="25.98" fill="#fff5b0"/><rect x="364.11" y="139.87" width="3.70" height="25.98" fill="#fffcba"/><rect x="367.76" y="139.87" width="3.70" height="25.98" fill="#f3fad5"/><rect x="371.41" y="139.87" width="3.70" height="25.98" fill="#5c90c2"/><rect x="375.06" y="139.87" width="3.70" height="25.98" fill="#4b7cb7"/><rect x="378.71" y="139.87" width="3.70" height="25.98" fill="#6ea6ce"/><rect x="382.36" y="139.87" width="3.70" height="25.98" fill="#6da5cd"/><rect x="386.01" y="139.87" width="3.70" height="25.98" fill="#4471b2"/><rect x="389.66" y="139.87" width="11.00" height="25.98" fill="#4168ae"/><rect x="400.61" y="139.87" width="3.70" height="25.98" fill="#416aae"/><rect x="404.26" y="139.87" width="3.70" height="25.98" fill="#436fb1"/><rect x="407.91" y="139.87" width="3.70" height="25.98" fill="#3a54a4"/><rect x="411.56" y="139.87" width="11.00" height="25.98" fill="#394fa1"/><rect x="422.52" y="139.87" width="3.70" height="25.98" fill="#3b56a4"/><rect x="426.17" y="139.87" width="3.70" height="25.98" fill="#4a7bb7"/><rect x="429.82" y="139.87" width="3.70" height="25.98" fill="#4e80ba"/><rect x="433.47" y="139.87" width="3.70" height="25.98" fill="#4879b6"/><rect x="437.12" y="139.87" width="3.70" height="25.98" fill="#36449c"/><rect x="440.77" y="139.87" width="7.35" height="25.98" fill="#333c98"/><rect x="448.07" y="139.87" width="3.70" height="25.98" fill="#37489e"/><rect x="451.72" y="139.87" width="3.70" height="25.98" fill="#5d92c3"/><rect x="455.37" y="139.87" width="3.70" height="25.98" fill="#6aa1cb"/><rect x="459.02" y="139.87" width="3.70" height="25.98" fill="#659bc8"/><rect x="462.67" y="139.87" width="3.70" height="25.98" fill="#4370b2"/><rect x="466.32" y="139.87" width="3.70" height="25.98" fill="#4168ae"/><rect x="469.97" y="139.87" width="3.70" height="25.98" fill="#4471b2"/><rect x="473.62" y="139.87" width="3.70" height="25.98" fill="#6da5cd"/><rect x="477.27" y="139.87" width="3.70" height="25.98" fill="#96c8e0"/><rect x="480.92" y="139.87" width="3.70" height="25.98" fill="#fec87a"/><rect x="484.57" y="139.87" width="3.70" height="25.98" fill="#fecc7d"/><rect x="488.22" y="139.87" width="3.70" height="25.98" fill="#fed182"/><rect x="491.87" y="139.87" width="3.70" height="25.98" fill="#fecd7e"/><rect x="495.52" y="139.87" width="3.70" height="25.98" fill="#fdb265"/><rect x="499.17" y="139.87" width="3.70" height="25.98" fill="#fdae61"/><rect x="502.82" y="139.87" width="3.70" height="25.98" fill="#fba35c"/><rect x="506.47" y="139.87" width="3.70" height="25.98" fill="#ed5f3d"/><rect x="510.12" y="139.87" width="3.70" height="25.98" fill="#ec5c3b"/><rect x="513.77" y="139.87" width="3.70" height="25.98" fill="#f88c51"/><rect x="517.42" y="139.87" width="7.35" height="25.98" fill="#f99455"/><rect x="524.72" y="139.87" width="3.70" height="25.98" fill="#f8884f"/><rect x="528.37" y="139.87" width="3.70" height="25.98" fill="#dd3c2c"/><rect x="532.02" y="139.87" width="3.70" height="25.98" fill="#da372a"/><rect x="535.67" y="139.87" width="3.70" height="25.98" fill="#f16640"/><rect x="539.32" y="139.87" width="11.00" height="25.98" fill="#f46d43"/><rect x="550.27" y="139.87" width="3.70" height="25.98" fill="#f16740"/><rect x="553.92" y="139.87" width="3.70" height="25.98" fill="#e0422f"/><rect x="557.57" y="139.87" width="3.70" height="25.98" fill="#e14631"/><rect x="561.22" y="139.87" width="3.70" height="25.98" fill="#f7834d"/><rect x="564.87" y="139.87" width="3.70" height="25.98" fill="#f8864f"/><rect x="568.52" y="139.87" width="3.70" height="25.98" fill="#ec5b3b"/><rect x="572.17" y="139.87" width="3.70" height="25.98" fill="#e85538"/><rect x="575.82" y="139.87" width="3.70" height="25.98" fill="#ea5839"/><rect x="579.47" y="139.87" width="3.70" height="25.98" fill="#f36a42"/><rect x="583.12" y="139.87" width="3.70" height="25.98" fill="#f46d43"/><rect x="586.77" y="139.87" width="3.70" height="25.98" fill="#f47044"/><rect x="590.42" y="139.87" width="3.70" height="25.98" fill="#f67e4b"/><rect x="594.07" y="139.87" width="11.00" height="25.98" fill="#f7814c"/><rect x="605.02" y="139.87" width="3.70" height="25.98" fill="#f57547"/><rect x="608.67" y="139.87" width="3.70" height="25.98" fill="#da372a"/><rect x="612.32" y="139.87" width="3.70" height="25.98" fill="#f0643f"/><rect x="615.97" y="139.87" width="11.00" height="25.98" fill="#f46d43"/><rect x="626.92" y="139.87" width="3.70" height="25.98" fill="#ef623e"/><rect x="630.57" y="139.87" width="3.70" height="25.98" fill="#c72127"/><rect x="634.22" y="139.87" width="3.70" height="25.98" fill="#c11b27"/><rect x="637.87" y="139.87" width="3.70" height="25.98" fill="#d42d27"/><rect x="641.53" y="139.87" width="3.70" height="25.98" fill="#d73127"/><rect x="645.18" y="139.87" width="3.70" height="25.98" fill="#da352a"/><rect x="648.83" y="139.87" width="3.70" height="25.98" fill="#db392b"/><rect x="652.48" y="139.87" width="3.70" height="25.98" fill="#e14631"/><rect x="656.13" y="139.87" width="3.70" height="25.98" fill="#df412f"/><rect x="659.78" y="139.87" width="3.70" height="25.98" fill="#cb2427"/><rect x="663.43" y="139.87" width="3.70" height="25.98" fill="#f57748"/><rect x="667.08" y="139.87" width="18.30" height="25.98" fill="#f8874f"/><rect x="685.33" y="139.87" width="3.70" height="25.98" fill="#f88c51"/><rect x="688.98" y="139.87" width="3.70" height="25.98" fill="#fca95f"/><rect x="692.63" y="139.87" width="14.65" height="25.98" fill="#fdae61"/><rect x="707.23" y="139.87" width="3.70" height="25.98" fill="#fca85e"/><rect x="710.88" y="139.87" width="3.70" height="25.98" fill="#f8874f"/><rect x="714.53" y="139.87" width="3.70" height="25.98" fill="#fdad61"/><rect x="718.18" y="139.87" width="3.70" height="25.98" fill="#fdb062"/><rect x="721.83" y="139.87" width="3.70" height="25.98" fill="#f99254"/><rect x="725.48" y="139.87" width="3.70" height="25.98" fill="#f88e52"/><rect x="729.13" y="139.87" width="3.70" height="25.98" fill="#f88850"/><rect x="732.78" y="139.87" width="3.70" height="25.98" fill="#f16640"/><rect x="736.43" y="139.87" width="3.70" height="25.98" fill="#f26841"/><rect x="740.08" y="139.87" width="3.70" height="25.98" fill="#fa9957"/><rect x="743.73" y="139.87" width="14.65" height="25.98" fill="#fba15b"/><rect x="758.33" y="139.87" width="3.70" height="25.98" fill="#fa9957"/><rect x="761.98" y="139.87" width="3.70" height="25.98" fill="#f26841"/><rect x="765.63" y="139.87" width="3.70" height="25.98" fill="#ef623e"/><rect x="769.28" y="139.87" width="3.70" height="25.98" fill="#f16640"/><rect x="772.93" y="139.87" width="3.70" height="25.98" fill="#e0422f"/><rect x="776.58" y="139.87" width="3.70" height="25.98" fill="#dd3c2d"/><rect x="780.23" y="139.87" width="3.70" height="25.98" fill="#db392b"/><rect x="783.88" y="139.87" width="3.70" height="25.98" fill="#cb2427"/><rect x="787.53" y="139.87" width="3.70" height="25.98" fill="#cc2527"/><rect x="791.18" y="139.87" width="3.70" height="25.98" fill="#de3e2d"/><rect x="794.83" y="139.87" width="7.35" height="25.98" fill="#e0422f"/><rect x="802.13" y="139.87" width="3.70" height="25.98" fill="#ec5d3c"/><rect x="805.78" y="139.87" width="3.70" height="25.98" fill="#fff1aa"/><rect x="809.43" y="139.87" width="3.70" height="25.98" fill="#fffcba"/><rect x="813.08" y="139.87" width="3.70" height="25.98" fill="#fee79a"/><rect x="816.73" y="139.87" width="3.70" height="25.98" fill="#fee698"/><rect x="820.38" y="139.87" width="3.70" height="25.98" fill="#fffebe"/><rect x="824.03" y="139.87" width="3.70" height="25.98" fill="#b9e0ed"/><rect x="827.68" y="139.87" width="7.35" height="25.98" fill="#abd9e9"/><rect x="834.98" y="139.87" width="3.70" height="25.98" fill="#b1dceb"/><rect x="838.63" y="139.87" width="3.70" height="25.98" fill="#daf0f6"/><rect x="842.28" y="139.87" width="3.70" height="25.98" fill="#d3edf4"/><rect x="845.93" y="139.87" width="3.70" height="25.98" fill="#81b8d7"/><rect x="849.58" y="139.87" width="3.70" height="25.98" fill="#7eb5d5"/><rect x="853.23" y="139.87" width="3.70" height="25.98" fill="#bce1ee"/><rect x="856.88" y="139.87" width="3.70" height="25.98" fill="#d1ecf4"/><rect x="860.54" y="139.87" width="3.70" height="25.98" fill="#fff6b1"/><rect x="864.19" y="139.87" width="3.70" height="25.98" fill="#fdc476"/><rect x="867.84" y="139.87" width="3.70" height="25.98" fill="#fffbb9"/><rect x="871.49" y="139.87" width="3.70" height="25.98" fill="#e4f4f1"/><rect x="875.14" y="139.87" width="3.70" height="25.98" fill="#e0f3f8"/><rect x="878.79" y="139.87" width="3.70" height="25.98" fill="#d9eff6"/><rect x="882.44" y="139.87" width="7.35" height="25.98" fill="#a8d6e8"/><rect x="889.74" y="139.87" width="3.70" height="25.98" fill="#cce9f2"/><rect x="893.39" y="139.87" width="3.70" height="25.98" fill="#81b8d7"/><rect x="897.04" y="139.87" width="3.70" height="25.98" fill="#74add1"/><rect x="900.69" y="139.87" width="3.70" height="25.98" fill="#6ea6ce"/><rect x="904.34" y="139.87" width="3.70" height="25.98" fill="#5082bb"/><rect x="907.99" y="139.87" width="3.70" height="25.98" fill="#77b0d2"/><rect x="911.64" y="139.87" width="3.70" height="25.98" fill="#cfeaf3"/><rect x="915.29" y="139.87" width="3.70" height="25.98" fill="#fede8e"/><rect x="918.94" y="139.87" width="3.70" height="25.98" fill="#fed283"/><rect x="922.59" y="139.87" width="3.70" height="25.98" fill="#fff2ab"/><rect x="926.24" y="139.87" width="11.00" height="25.98" fill="#fff6b1"/><rect x="937.19" y="139.87" width="3.70" height="25.98" fill="#fff2ac"/><rect x="940.84" y="139.87" width="3.70" height="25.98" fill="#fedc8c"/><rect x="944.49" y="139.87" width="3.70" height="25.98" fill="#fee090"/><rect x="948.14" y="139.87" width="3.70" height="25.98" fill="#f0f9da"/><rect x="951.79" y="139.87" width="3.70" height="25.98" fill="#b5deec"/><rect x="955.44" y="139.87" width="3.70" height="25.98" fill="#aad8e9"/><rect x="959.09" y="139.87" width="3.70" height="25.98" fill="#a1d1e5"/><rect x="962.74" y="139.87" width="3.70" height="25.98" fill="#a4d4e6"/><rect x="966.39" y="139.87" width="3.70" height="25.98" fill="#b3ddeb"/><rect x="970.04" y="139.87" width="3.70" height="25.98" fill="#5e93c3"/><rect x="973.69" y="139.87" width="3.70" height="25.98" fill="#4777b5"/><rect x="977.34" y="139.87" width="3.70" height="25.98" fill="#4575b4"/><rect x="980.99" y="139.87" width="3.70" height="25.98" fill="#436fb1"/><rect x="984.64" y="139.87" width="3.70" height="25.98" fill="#37499e"/><rect x="988.29" y="139.87" width="3.70" height="25.98" fill="#3950a2"/><rect x="991.94" y="139.87" width="3.70" height="25.98" fill="#6aa1cb"/><rect x="995.59" y="139.87" width="3.70" height="25.98" fill="#6da5cd"/><rect x="999.24" y="139.87" width="3.70" height="25.98" fill="#4471b2"/><rect x="1002.89" y="139.87" width="3.70" height="25.98" fill="#4064ac"/><rect x="1006.54" y="139.87" width="3.70" height="25.98" fill="#36479d"/><rect x="1010.19" y="139.87" width="3.70" height="25.98" fill="#3a51a2"/><rect x="1013.84" y="139.87" width="3.70" height="25.98" fill="#6ea6cd"/><rect x="1017.49" y="139.87" width="3.70" height="25.98" fill="#79b1d3"/><rect x="1021.14" y="139.87" width="3.70" height="25.98" fill="#71aacf"/><rect x="1024.79" y="139.87" width="3.70" height="25.98" fill="#4472b3"/><rect x="1028.44" y="139.87" width="11.00" height="25.98" fill="#4168ae"/><rect x="1039.39" y="139.87" width="3.70" height="25.98" fill="#4878b6"/><rect x="1043.04" y="139.87" width="3.70" height="25.98" fill="#96c8e0"/><rect x="1046.69" y="139.87" width="3.70" height="25.98" fill="#72abd0"/><rect x="1050.34" y="139.87" width="3.70" height="25.98" fill="#426cb0"/><rect x="1053.99" y="139.87" width="11.00" height="25.98" fill="#3f62ab"/><rect x="1064.94" y="139.87" width="3.70" height="25.98" fill="#4471b2"/><rect x="1068.59" y="139.87" width="3.70" height="25.98" fill="#7eb5d5"/><rect x="1072.24" y="139.87" width="3.70" height="25.98" fill="#4b7cb7"/><rect x="1075.89" y="139.87" width="3.70" height="25.98" fill="#3a54a4"/><rect x="1079.55" y="139.87" width="11.00" height="25.98" fill="#394fa1"/><rect x="1090.50" y="139.87" width="3.70" height="25.98" fill="#3a54a4"/><rect x="1094.15" y="139.87" width="3.70" height="25.98" fill="#4471b2"/><rect x="1097.80" y="139.87" width="11.00" height="25.98" fill="#4575b4"/><rect x="1108.75" y="139.87" width="3.70" height="25.98" fill="#4471b2"/><rect x="1112.40" y="139.87" width="3.70" height="25.98" fill="#3e5ea9"/><rect x="1116.05" y="139.87" width="3.70" height="25.98" fill="#5e93c4"/><rect x="1119.70" y="139.87" width="3.70" height="25.98" fill="#6298c6"/><rect x="1123.35" y="139.87" width="3.70" height="25.98" fill="#4574b4"/><rect x="1127.00" y="139.87" width="3.70" height="25.98" fill="#37499e"/><rect x="1130.65" y="139.87" width="7.35" height="25.98" fill="#35439b"/><rect x="1137.95" y="139.87" width="3.70" height="25.98" fill="#36479d"/><rect x="1141.60" y="139.87" width="3.70" height="25.98" fill="#4064ac"/><rect x="1145.25" y="139.87" width="3.70" height="25.98" fill="#3f63ab"/><rect x="1148.90" y="139.87" width="3.70" height="25.98" fill="#35419b"/><rect x="1152.55" y="139.87" width="14.65" height="25.98" fill="#333c98"/><rect x="1167.15" y="139.87" width="3.70" height="25.98" fill="#35439c"/><rect x="1170.80" y="139.87" width="3.70" height="25.98" fill="#436eb1"/><rect x="1174.45" y="139.87" width="3.70" height="25.98" fill="#4471b2"/><rect x="1178.10" y="139.87" width="3.70" height="25.98" fill="#3a54a4"/><rect x="1181.75" y="139.87" width="3.70" height="25.98" fill="#394fa1"/>
<rect x="94.00" y="165.80" width="11.00" height="25.98" fill="#d73027"/><rect x="104.95" y="165.80" width="3.70" height="25.98" fill="#d62f27"/><rect x="108.60" y="165.80" width="3.70" height="25.98" fill="#ce2727"/><rect x="112.25" y="165.80" width="21.95" height="25.98" fill="#cd2627"/><rect x="134.15" y="165.80" width="3.70" height="25.98" fill="#cb2427"/><rect x="137.80" y="165.80" width="3.70" height="25.98" fill="#c21b27"/><rect x="141.45" y="165.80" width="3.70" height="25.98" fill="#cb2427"/><rect x="145.10" y="165.80" width="7.35" height="25.98" fill="#cd2627"/><rect x="152.40" y="165.80" width="3.70" height="25.98" fill="#d42d27"/><rect x="156.05" y="165.80" width="3.70" height="25.98" fill="#f0643f"/><rect x="159.70" y="165.80" width="3.70" height="25.98" fill="#f46d43"/><rect x="163.35" y="165.80" width="3.70" height="25.98" fill="#f57547"/><rect x="167.00" y="165.80" width="3.70" height="25.98" fill="#fca65d"/><rect x="170.65" y="165.80" width="3.70" height="25.98" fill="#fdae61"/><rect x="174.30" y="165.80" width="3.70" height="25.98" fill="#fdb366"/><rect x="177.95" y="165.80" width="3.70" height="25.98" fill="#fed182"/><rect x="181.60" y="165.80" width="14.65" height="25.98" fill="#fed687"/><rect x="196.20" y="165.80" width="3.70" height="25.98" fill="#fed283"/><rect x="199.85" y="165.80" width="3.70" height="25.98" fill="#fdc476"/><rect x="203.51" y="165.80" width="3.70" height="25.98" fill="#feeda4"/><rect x="207.16" y="165.80" width="40.20" height="25.98" fill="#fff3ac"/><rect x="247.31" y="165.80" width="3.70" height="25.98" fill="#fff0a9"/><rect x="250.96" y="165.80" width="3.70" height="25.98" fill="#fee293"/><rect x="254.61" y="165.80" width="18.30" height="25.98" fill="#fee090"/><rect x="272.86" y="165.80" width="3.70" height="25.98" fill="#fed989"/><rect x="276.51" y="165.80" width="3.70" height="25.98" fill="#fcaa5f"/><rect x="280.16" y="165.80" width="3.70" height="25.98" fill="#fb9c59"/><rect x="283.81" y="165.80" width="3.70" height="25.98" fill="#f67f4b"/><rect x="287.46" y="165.80" width="11.00" height="25.98" fill="#f67a49"/><rect x="298.41" y="165.80" width="3.70" height="25.98" fill="#f57547"/><rect x="302.06" y="165.80" width="3.70" height="25.98" fill="#ef623e"/><rect x="305.71" y="165.80" width="3.70" height="25.98" fill="#fdbb6d"/><rect x="309.36" y="165.80" width="3.70" height="25.98" fill="#fdc476"/><rect x="313.01" y="165.80" width="3.70" height="25.98" fill="#fdb164"/><rect x="316.66" y="165.80" width="3.70" height="25.98" fill="#fdaf62"/><rect x="320.31" y="165.80" width="3.70" height="25.98" fill="#fdb366"/><rect x="323.96" y="165.80" width="3.70" height="25.98" fill="#f99455"/><rect x="327.61" y="165.80" width="3.70" height="25.98" fill="#f57748"/><rect x="331.26" y="165.80" width="3.70" height="25.98" fill="#fa9957"/><rect x="334.91" y="165.80" width="3.70" height="25.98" fill="#fdb568"/><rect x="338.56" y="165.80" width="3.70" height="25.98" fill="#fdb86a"/><rect x="342.21" y="165.80" width="3.70" height="25.98" fill="#fdb467"/><rect x="345.86" y="165.80" width="3.70" height="25.98" fill="#fa9957"/><rect x="349.51" y="165.80" width="3.70" height="25.98" fill="#f88e52"/><rect x="353.16" y="165.80" width="3.70" height="25.98" fill="#f46c43"/><rect x="356.81" y="165.80" width="3.70" height="25.98" fill="#f99355"/><rect x="360.46" y="165.80" width="3.70" height="25.98" fill="#fdb96b"/><rect x="364.11" y="165.80" width="7.35" height="25.98" fill="#fdbd6f"/><rect x="371.41" y="165.80" width="3.70" height="25.98" fill="#fdb86a"/><rect x="375.06" y="165.80" width="3.70" height="25.98" fill="#f98e52"/><rect x="378.71" y="165.80" width="3.70" height="25.98" fill="#f98f53"/><rect x="382.36" y="165.80" width="3.70" height="25.98" fill="#fdc678"/><rect x="386.01" y="165.80" width="3.70" height="25.98" fill="#feeca2"/><rect x="389.66" y="165.80" width="7.35" height="25.98" fill="#fef0a8"/><rect x="396.96" y="165.80" width="3.70" height="25.98" fill="#feea9f"/><rect x="400.61" y="165.80" width="3.70" height="25.98" fill="#fdb769"/><rect x="404.26" y="165.80" width="3.70" height="25.98" fill="#fdb264"/><rect x="407.91" y="165.80" width="3.70" height="25.98" fill="#fec87a"/><rect x="411.56" y="165.80" width="3.70" height="25.98" fill="#fdc678"/><rect x="415.21" y="165.80" width="3.70" height="25.98" fill="#fa9c59"/><rect x="418.86" y="165.80" width="3.70" height="25.98" fill="#fa9757"/><rect x="422.52" y="165.80" width="3.70" height="25.98" fill="#fdab60"/><rect x="426.17" y="165.80" width="3.70" height="25.98" fill="#fca65d"/><rect x="429.82" y="165.80" width="3.70" height="25.98" fill="#f7824d"/><rect x="433.47" y="165.80" width="3.70" height="25.98" fill="#fecc7d"/><rect x="437.12" y="165.80" width="3.70" height="25.98" fill="#feeca3"/><rect x="440.77" y="165.80" width="7.35" height="25.98" fill="#fef0a8"/><rect x="448.07" y="165.80" width="3.70" height="25.98" fill="#feeda4"/><rect x="451.72" y="165.80" width="3.70" height="25.98" fill="#feda8a"/><rect x="455.37" y="165.80" width="3.70" height="25.98" fill="#fedd8d"/><rect x="459.02" y="165.80" width="3.70" height="25.98" fill="#fffbb8"/><rect x="462.67" y="165.80" width="3.70" height="25.98" fill="#ffffbf"/><rect x="466.32" y="165.80" width="3.70" height="25.98" fill="#fbfec6"/><rect x="469.97" y="165.80" width="3.70" height="25.98" fill="#e4f4f1"/><rect x="473.62" y="165.80" width="3.70" height="25.98" fill="#e3f4f2"/><rect x="477.27" y="165.80" width="7.35" height="25.98" fill="#f6fbd0"/><rect x="484.57" y="165.80" width="3.70" height="25.98" fill="#e3f4f2"/><rect x="488.22" y="165.80" width="3.70" height="25.98" fill="#e0f3f8"/><rect x="491.87" y="165.80" width="3.70" height="25.98" fill="#e2f4f3"/><rect x="495.52" y="165.80" width="3.70" height="25.98" fill="#f3fad5"/><rect x="499.17" y="165.80" width="18.30" height="25.98" fill="#f6fbd0"/><rect x="517.42" y="165.80" width="3.70" height="25.98" fill="#f3fad5"/><rect x="521.07" y="165.80" width="3.70" height="25.98" fill="#e2f4f3"/><rect x="524.72" y="165.80" width="3.70" height="25.98" fill="#e4f4f1"/><rect x="528.37" y="165.80" width="3.70" height="25.98" fill="#fbfec6"/><rect x="532.02" y="165.80" width="3.70" height="25.98" fill="#fffdbb"/><rect x="535.67" y="165.80" width="3.70" height="25.98" fill="#fff0a9"/><rect x="539.32" y="165.80" width="3.70" height="25.98" fill="#f7fcce"/><rect x="542.97" y="165.80" width="3.70" height="25.98" fill="#fff9b6"/><rect x="546.62" y="165.80" width="7.35" height="25.98" fill="#fff6b1"/><rect x="553.92" y="165.80" width="3.70" height="25.98" fill="#fff2ac"/><rect x="557.57" y="165.80" width="3.70" height="25.98" fill="#fee292"/><rect x="561.22" y="165.80" width="3.70" height="25.98" fill="#fffbb8"/><rect x="564.87" y="165.80" width="11.00" height="25.98" fill="#ffffbf"/><rect x="575.82" y="165.80" width="3.70" height="25.98" fill="#fff6b1"/><rect x="579.47" y="165.80" width="3.70" height="25.98" fill="#fca75e"/><rect x="583.12" y="165.80" width="3.70" height="25.98" fill="#f99455"/><rect x="586.77" y="165.80" width="3.70" height="25.98" fill="#fa9757"/><rect x="590.42" y="165.80" width="7.35" height="25.98" fill="#fdab60"/><rect x="597.72" y="165.80" width="3.70" height="25.98" fill="#fb9d59"/><rect x="601.37" y="165.80" width="3.70" height="25.98" fill="#fa9a58"/><rect x="605.02" y="165.80" width="3.70" height="25.98" fill="#fa9556"/><rect x="608.67" y="165.80" width="3.70" height="25.98" fill="#f67d4a"/><rect x="612.32" y="165.80" width="3.70" height="25.98" fill="#fdb568"/><rect x="615.97" y="165.80" width="3.70" height="25.98" fill="#fdc071"/><rect x="619.62" y="165.80" width="3.70" height="25.98" fill="#fece80"/><rect x="623.27" y="165.80" width="3.70" height="25.98" fill="#fed182"/><rect x="626.92" y="165.80" width="3.70" height="25.98" fill="#fdc274"/><rect x="630.57" y="165.80" width="3.70" height="25.98" fill="#e85438"/><rect x="634.22" y="165.80" width="3.70" height="25.98" fill="#e54d34"/><rect x="637.87" y="165.80" width="3.70" height="25.98" fill="#f88a50"/><rect x="641.53" y="165.80" width="3.70" height="25.98" fill="#f57245"/><rect x="645.18" y="165.80" width="3.70" height="25.98" fill="#f46d43"/><rect x="648.83" y="165.80" width="3.70" height="25.98" fill="#f57547"/><rect x="652.48" y="165.80" width="3.70" height="25.98" fill="#fdac60"/><rect x="656.13" y="165.80" width="3.70" height="25.98" fill="#fca85e"/><rect x="659.78" y="165.80" width="3.70" height="25.98" fill="#f47044"/><rect x="663.43" y="165.80" width="3.70" height="25.98" fill="#fff2ab"/><rect x="667.08" y="165.80" width="3.70" height="25.98" fill="#fbfec6"/><rect x="670.73" y="165.80" width="3.70" height="25.98" fill="#e4f4f1"/><rect x="674.38" y="165.80" width="3.70" height="25.98" fill="#e2f4f5"/><rect x="678.03" y="165.80" width="3.70" height="25.98" fill="#f0f9dc"/><rect x="681.68" y="165.80" width="3.70" height="25.98" fill="#fdfec2"/><rect x="685.33" y="165.80" width="3.70" height="25.98" fill="#fbfec6"/><rect x="688.98" y="165.80" width="3.70" height="25.98" fill="#e4f4f1"/><rect x="692.63" y="165.80" width="11.00" height="25.98" fill="#e0f3f8"/><rect x="703.58" y="165.80" width="3.70" height="25.98" fill="#e2f4f4"/><rect x="707.23" y="165.80" width="3.70" height="25.98" fill="#f0f9da"/><rect x="710.88" y="165.80" width="3.70" height="25.98" fill="#edf8e1"/><rect x="714.53" y="165.80" width="3.70" height="25.98" fill="#b5deec"/><rect x="718.18" y="165.80" width="3.70" height="25.98" fill="#abd9e9"/><rect x="721.83" y="165.80" width="3.70" height="25.98" fill="#aedbea"/><rect x="725.48" y="165.80" width="3.70" height="25.98" fill="#c2e4f0"/><rect x="729.13" y="165.80" width="7.35" height="25.98" fill="#c6e6f0"/><rect x="736.43" y="165.80" width="3.70" height="25.98" fill="#c2e4f0"/><rect x="740.08" y="165.80" width="3.70" height="25.98" fill="#aedbea"/><rect x="743.73" y="165.80" width="3.70" height="25.98" fill="#b0dcea"/><rect x="747.38" y="165.80" width="3.70" height="25.98" fill="#d0ebf4"/><rect x="751.03" y="165.80" width="3.70" height="25.98" fill="#d5eef5"/><rect x="754.68" y="165.80" width="3.70" height="25.98" fill="#daf0f6"/><rect x="758.33" y="165.80" width="3.70" height="25.98" fill="#fffab7"/><rect x="761.98" y="165.80" width="3.70" height="25.98" fill="#fed384"/><rect x="765.63" y="165.80" width="3.70" height="25.98" fill="#fed485"/><rect x="769.28" y="165.80" width="3.70" height="25.98" fill="#fffab7"/><rect x="772.93" y="165.80" width="7.35" height="25.98" fill="#ffffbf"/><rect x="780.23" y="165.80" width="3.70" height="25.98" fill="#fffdbc"/><rect x="783.88" y="165.80" width="3.70" height="25.98" fill="#fff3ad"/><rect x="787.53" y="165.80" width="3.70" height="25.98" fill="#fffdbc"/><rect x="791.18" y="165.80" width="18.30" height="25.98" fill="#ffffbf"/><rect x="809.43" y="165.80" width="3.70" height="25.98" fill="#fffcba"/><rect x="813.08" y="165.80" width="3.70" height="25.98" fill="#fee99e"/><rect x="816.73" y="165.80" width="3.70" height="25.98" fill="#feeaa0"/><rect x="820.38" y="165.80" width="3.70" height="25.98" fill="#fafdc9"/><rect x="824.03" y="165.80" width="11.00" height="25.98" fill="#f6fbd0"/><rect x="834.98" y="165.80" width="3.70" height="25.98" fill="#fafdc9"/><rect x="838.63" y="165.80" width="3.70" height="25.98" fill="#feeaa0"/><rect x="842.28" y="165.80" width="3.70" height="25.98" fill="#feeba1"/><rect x="845.93" y="165.80" width="3.70" height="25.98" fill="#f4fbd2"/><rect x="849.58" y="165.80" width="3.70" height="25.98" fill="#ebf7e3"/><rect x="853.23" y="165.80" width="3.70" height="25.98" fill="#c7e7f1"/><rect x="856.88" y="165.80" width="3.70" height="25.98" fill="#c0e3ef"/><rect x="860.54" y="165.80" width="3.70" height="25.98" fill="#c4e5f0"/><rect x="864.19" y="165.80" width="3.70" height="25.98" fill="#dcf1f7"/><rect x="867.84" y="165.80" width="3.70" height="25.98" fill="#d6eef5"/><rect x="871.49" y="165.80" width="3.70" height="25.98" fill="#94c7df"/><rect x="875.14" y="165.80" width="3.70" height="25.98" fill="#8abfdb"/><rect x="878.79" y="165.80" width="3.70" height="25.98" fill="#9dcee3"/><rect x="882.44" y="165.80" width="3.70" height="25.98" fill="#fdfec2"/><rect x="886.09" y="165.80" width="3.70" height="25.98" fill="#fff2ac"/><rect x="889.74" y="165.80" width="3.70" height="25.98" fill="#fee090"/><rect x="893.39" y="165.80" width="3.70" height="25.98" fill="#feeda4"/><rect x="897.04" y="165.80" width="11.00" height="25.98" fill="#fef0a8"/><rect x="907.99" y="165.80" width="3.70" height="25.98" fill="#feeea5"/><rect x="911.64" y="165.80" width="3.70" height="25.98" fill="#fee394"/><rect x="915.29" y="165.80" width="3.70" height="25.98" fill="#fecf80"/><rect x="918.94" y="165.80" width="3.70" height="25.98" fill="#fed485"/><rect x="922.59" y="165.80" width="3.70" height="25.98" fill="#fffab7"/><rect x="926.24" y="165.80" width="11.00" height="25.98" fill="#ffffbf"/><rect x="937.19" y="165.80" width="3.70" height="25.98" fill="#fffdbc"/><rect x="940.84" y="165.80" width="3.70" height="25.98" fill="#fff1aa"/><rect x="944.49" y="165.80" width="3.70" height="25.98" fill="#fff6b1"/><rect x="948.14" y="165.80" width="3.70" height="25.98" fill="#e0f3f8"/><rect x="951.79" y="165.80" width="3.70" height="25.98" fill="#cfebf3"/><rect x="955.44" y="165.80" width="3.70" height="25.98" fill="#a7d5e7"/><rect x="959.09" y="165.80" width="7.35" height="25.98" fill="#a0d0e4"/><rect x="966.39" y="165.80" width="3.70" height="25.98" fill="#9acce2"/><rect x="970.04" y="165.80" width="3.70" height="25.98" fill="#74add1"/><rect x="973.69" y="165.80" width="3.70" height="25.98" fill="#5386bd"/><rect x="977.34" y="165.80" width="11.00" height="25.98" fill="#4e80ba"/><rect x="988.29" y="165.80" width="3.70" height="25.98" fill="#5386bd"/><rect x="991.94" y="165.80" width="3.70" height="25.98" fill="#6fa7ce"/><rect x="995.59" y="165.80" width="3.70" height="25.98" fill="#6da5cd"/><rect x="999.24" y="165.80" width="3.70" height="25.98" fill="#4471b2"/><rect x="1002.89" y="165.80" width="11.00" height="25.98" fill="#4168ae"/><rect x="1013.84" y="165.80" width="3.70" height="25.98" fill="#4471b2"/><rect x="1017.49" y="165.80" width="3.70" height="25.98" fill="#69a0ca"/><rect x="1021.14" y="165.80" width="3.70" height="25.98" fill="#679ec9"/><rect x="1024.79" y="165.80" width="3.70" height="25.98" fill="#3e60aa"/><rect x="1028.44" y="165.80" width="3.70" height="25.98" fill="#4065ac"/><rect x="1032.09" y="165.80" width="3.70" height="25.98" fill="#82b8d7"/><rect x="1035.74" y="165.80" width="3.70" height="25.98" fill="#92c5de"/><rect x="1039.39" y="165.80" width="3.70" height="25.98" fill="#9ecee3"/><rect x="1043.04" y="165.80" width="3.70" height="25.98" fill="#a0d0e4"/><rect x="1046.69" y="165.80" width="3.70" height="25.98" fill="#9ccde3"/><rect x="1050.34" y="165.80" width="3.70" height="25.98" fill="#83b9d7"/><rect x="1053.99" y="165.80" width="7.35" height="25.98" fill="#7fb6d6"/><rect x="1061.29" y="165.80" width="3.70" height="25.98" fill="#89beda"/><rect x="1064.94" y="165.80" width="3.70" height="25.98" fill="#cbe9f2"/><rect x="1068.59" y="165.80" width="3.70" height="25.98" fill="#eaf7e6"/><rect x="1072.24" y="165.80" width="3.70" height="25.98" fill="#e9f6e8"/><rect x="1075.89" y="165.80" width="3.70" height="25.98" fill="#c7e7f1"/><rect x="1079.55" y="165.80" width="3.70" height="25.98" fill="#c0e3ef"/><rect x="1083.20" y="165.80" width="3.70" height="25.98" fill="#c4e5f0"/><rect x="1086.85" y="165.80" width="3.70" height="25.98" fill="#dcf1f7"/><rect x="1090.50" y="165.80" width="3.70" height="25.98" fill="#e6f5ee"/><rect x="1094.15" y="165.80" width="3.70" height="25.98" fill="#fff5b0"/><rect x="1097.80" y="165.80" width="7.35" height="25.98" fill="#fef0a8"/><rect x="1105.10" y="165.80" width="3.70" height="25.98" fill="#feeca2"/><rect x="1108.75" y="165.80" width="3.70" height="25.98" fill="#fecf80"/><rect x="1112.40" y="165.80" width="3.70" height="25.98" fill="#fdba6d"/><rect x="1116.05" y="165.80" width="3.70" height="25.98" fill="#fdb366"/><rect x="1119.70" y="165.80" width="3.70" height="25.98" fill="#fa9756"/><rect x="1123.35" y="165.80" width="3.70" height="25.98" fill="#fed182"/><rect x="1127.00" y="165.80" width="3.70" height="25.98" fill="#f4fbd4"/><rect x="1130.65" y="165.80" width="3.70" height="25.98" fill="#ecf8e1"/><rect x="1134.30" y="165.80" width="3.70" height="25.98" fill="#e9f6e7"/><rect x="1137.95" y="165.80" width="3.70" height="25.98" fill="#cbe9f2"/><rect x="1141.60" y="165.80" width="3.70" height="25.98" fill="#c9e8f1"/><rect x="1145.25" y="165.80" width="3.70" height="25.98" fill="#d5eef5"/><rect x="1148.90" y="165.80" width="3.70" height="25.98" fill="#a8d6e8"/><rect x="1152.55" y="165.80" width="11.00" height="25.98" fill="#a0d0e4"/><rect x="1163.50" y="165.80" width="3.70" height="25.98" fill="#a9d8e8"/><rect x="1167.15" y="165.80" width="3.70" height="25.98" fill="#e4f5f1"/><rect x="1170.80" y="165.80" width="3.70" height="25.98" fill="#f3fad5"/><rect x="1174.45" y="165.80" width="3.70" height="25.98" fill="#a5d4e6"/><rect x="1178.10" y="165.80" width="7.35" height="25.98" fill="#95c7df"/>
<rect x="94.00" y="191.73" width="21.95" height="25.98" fill="#c31d27"/><rect x="115.90" y="191.73" width="3.70" height="25.98" fill="#c01a27"/><rect x="119.55" y="191.73" width="3.70" height="25.98" fill="#ad0826"/><rect x="123.20" y="191.73" width="29.25" height="25.98" fill="#aa0526"/><rect x="152.40" y="191.73" width="3.70" height="25.98" fill="#ac0726"/><rect x="156.05" y="191.73" width="3.70" height="25.98" fill="#bc1626"/><rect x="159.70" y="191.73" width="14.65" height="25.98" fill="#be1826"/><rect x="174.30" y="191.73" width="3.70" height="25.98" fill="#c01a27"/><rect x="177.95" y="191.73" width="3.70" height="25.98" fill="#d02927"/><rect x="181.60" y="191.73" width="18.30" height="25.98" fill="#d22b27"/><rect x="199.85" y="191.73" width="3.70" height="25.98" fill="#d83128"/><rect x="203.51" y="191.73" width="3.70" height="25.98" fill="#ee603d"/><rect x="207.16" y="191.73" width="36.55" height="25.98" fill="#f16740"/><rect x="243.66" y="191.73" width="3.70" height="25.98" fill="#f26941"/><rect x="247.31" y="191.73" width="3.70" height="25.98" fill="#f57748"/><rect x="250.96" y="191.73" width="21.95" height="25.98" fill="#f67a49"/><rect x="272.86" y="191.73" width="3.70" height="25.98" fill="#f57145"/><rect x="276.51" y="191.73" width="3.70" height="25.98" fill="#df402e"/><rect x="280.16" y="191.73" width="3.70" height="25.98" fill="#f16640"/><rect x="283.81" y="191.73" width="18.30" height="25.98" fill="#f46d43"/><rect x="302.06" y="191.73" width="3.70" height="25.98" fill="#f57446"/><rect x="305.71" y="191.73" width="7.35" height="25.98" fill="#fa9a58"/><rect x="313.01" y="191.73" width="3.70" height="25.98" fill="#f57446"/><rect x="316.66" y="191.73" width="7.35" height="25.98" fill="#f46d43"/><rect x="323.96" y="191.73" width="3.70" height="25.98" fill="#f26841"/><rect x="327.61" y="191.73" width="3.70" height="25.98" fill="#e54d34"/><rect x="331.26" y="191.73" width="3.70" height="25.98" fill="#f46c43"/><rect x="334.91" y="191.73" width="3.70" height="25.98" fill="#f98f53"/><rect x="338.56" y="191.73" width="7.35" height="25.98" fill="#f99455"/><rect x="345.86" y="191.73" width="3.70" height="25.98" fill="#f88e52"/><rect x="349.51" y="191.73" width="3.70" height="25.98" fill="#ee613e"/><rect x="353.16" y="191.73" width="3.70" height="25.98" fill="#df422f"/><rect x="356.81" y="191.73" width="3.70" height="25.98" fill="#f46e43"/><rect x="360.46" y="191.73" width="3.70" height="25.98" fill="#fdae61"/><rect x="364.11" y="191.73" width="3.70" height="25.98" fill="#feda8a"/><rect x="367.76" y="191.73" width="11.00" height="25.98" fill="#fee090"/><rect x="378.71" y="191.73" width="3.70" height="25.98" fill="#fee496"/><rect x="382.36" y="191.73" width="3.70" height="25.98" fill="#ffffbf"/><rect x="386.01" y="191.73" width="3.70" height="25.98" fill="#e7f6ec"/><rect x="389.66" y="191.73" width="7.35" height="25.98" fill="#e3f4f2"/><rect x="396.96" y="191.73" width="3.70" height="25.98" fill="#e7f6ec"/><rect x="400.61" y="191.73" width="3.70" height="25.98" fill="#fcfec5"/><rect x="404.26" y="191.73" width="3.70" height="25.98" fill="#fffebd"/><rect x="407.91" y="191.73" width="3.70" height="25.98" fill="#fff7b3"/><rect x="411.56" y="191.73" width="7.35" height="25.98" fill="#fff6b1"/><rect x="418.86" y="191.73" width="3.70" height="25.98" fill="#fff8b4"/><rect x="422.52" y="191.73" width="3.70" height="25.98" fill="#fcfec4"/><rect x="426.17" y="191.73" width="3.70" height="25.98" fill="#fffab8"/><rect x="429.82" y="191.73" width="3.70" height="25.98" fill="#fff9b6"/><rect x="433.47" y="191.73" width="3.70" height="25.98" fill="#fffdbc"/><rect x="437.12" y="191.73" width="3.70" height="25.98" fill="#e1f3f7"/><rect x="440.77" y="191.73" width="3.70" height="25.98" fill="#b1dceb"/><rect x="444.42" y="191.73" width="3.70" height="25.98" fill="#abd9e9"/><rect x="448.07" y="191.73" width="3.70" height="25.98" fill="#aedbea"/><rect x="451.72" y="191.73" width="3.70" height="25.98" fill="#c2e4f0"/><rect x="455.37" y="191.73" width="3.70" height="25.98" fill="#bae0ed"/><rect x="459.02" y="191.73" width="3.70" height="25.98" fill="#70a9cf"/><rect x="462.67" y="191.73" width="3.70" height="25.98" fill="#5e93c3"/><rect x="466.32" y="191.73" width="3.70" height="25.98" fill="#3a54a4"/><rect x="469.97" y="191.73" width="3.70" height="25.98" fill="#3950a2"/><rect x="473.62" y="191.73" width="3.70" height="25.98" fill="#497ab7"/><rect x="477.27" y="191.73" width="3.70" height="25.98" fill="#5386bd"/><rect x="480.92" y="191.73" width="3.70" height="25.98" fill="#6fa7ce"/><rect x="484.57" y="191.73" width="3.70" height="25.98" fill="#72aad0"/><rect x="488.22" y="191.73" width="3.70" height="25.98" fill="#6499c7"/><rect x="491.87" y="191.73" width="7.35" height="25.98" fill="#6197c5"/><rect x="499.17" y="191.73" width="3.70" height="25.98" fill="#69a0ca"/><rect x="502.82" y="191.73" width="3.70" height="25.98" fill="#a8d7e8"/><rect x="506.47" y="191.73" width="3.70" height="25.98" fill="#cfebf3"/><rect x="510.12" y="191.73" width="3.70" height="25.98" fill="#90c3dd"/><rect x="513.77" y="191.73" width="11.00" height="25.98" fill="#84bad8"/><rect x="524.72" y="191.73" width="3.70" height="25.98" fill="#8cc0dc"/><rect x="528.37" y="191.73" width="3.70" height="25.98" fill="#bee2ee"/><rect x="532.02" y="191.73" width="3.70" height="25.98" fill="#d2ecf4"/><rect x="535.67" y="191.73" width="3.70" height="25.98" fill="#fffab7"/><rect x="539.32" y="191.73" width="11.00" height="25.98" fill="#fff3ac"/><rect x="550.27" y="191.73" width="3.70" height="25.98" fill="#feeba1"/><rect x="553.92" y="191.73" width="3.70" height="25.98" fill="#fca45c"/><rect x="557.57" y="191.73" width="3.70" height="25.98" fill="#fca75e"/><rect x="561.22" y="191.73" width="3.70" height="25.98" fill="#fffab7"/><rect x="564.87" y="191.73" width="3.70" height="25.98" fill="#e4f4f1"/><rect x="568.52" y="191.73" width="3.70" height="25.98" fill="#e0f3f8"/><rect x="572.17" y="191.73" width="3.70" height="25.98" fill="#e5f5ef"/><rect x="575.82" y="191.73" width="3.70" height="25.98" fill="#fff2ab"/><rect x="579.47" y="191.73" width="3.70" height="25.98" fill="#f99355"/><rect x="583.12" y="191.73" width="3.70" height="25.98" fill="#f7864e"/><rect x="586.77" y="191.73" width="3.70" height="25.98" fill="#fdb86a"/><rect x="590.42" y="191.73" width="3.70" height="25.98" fill="#feffc0"/><rect x="594.07" y="191.73" width="11.00" height="25.98" fill="#f6fbd0"/><rect x="605.02" y="191.73" width="3.70" height="25.98" fill="#f9fdca"/><rect x="608.67" y="191.73" width="3.70" height="25.98" fill="#fff6b2"/><rect x="612.32" y="191.73" width="3.70" height="25.98" fill="#f3fad5"/><rect x="615.97" y="191.73" width="3.70" height="25.98" fill="#eef8df"/><rect x="619.62" y="191.73" width="3.70" height="25.98" fill="#e2f4f5"/><rect x="623.27" y="191.73" width="3.70" height="25.98" fill="#e0f3f8"/><rect x="626.92" y="191.73" width="3.70" height="25.98" fill="#e6f5ee"/><rect x="630.57" y="191.73" width="3.70" height="25.98" fill="#fff5b0"/><rect x="634.22" y="191.73" width="3.70" height="25.98" fill="#fef0a8"/><rect x="637.87" y="191.73" width="3.70" height="25.98" fill="#fff5b0"/><rect x="641.53" y="191.73" width="3.70" height="25.98" fill="#e6f5ee"/><rect x="645.18" y="191.73" width="3.70" height="25.98" fill="#e0f3f8"/><rect x="648.83" y="191.73" width="3.70" height="25.98" fill="#d9eff6"/><rect x="652.48" y="191.73" width="3.70" height="25.98" fill="#a8d6e8"/><rect x="656.13" y="191.73" width="3.70" height="25.98" fill="#a4d4e6"/><rect x="659.78" y="191.73" width="3.70" height="25.98" fill="#b3ddeb"/><rect x="663.43" y="191.73" width="3.70" height="25.98" fill="#5f94c4"/><rect x="667.08" y="191.73" width="3.70" height="25.98" fill="#5386bd"/><rect x="670.73" y="191.73" width="3.70" height="25.98" fill="#5184bc"/><rect x="674.38" y="191.73" width="3.70" height="25.98" fill="#4777b5"/><rect x="678.03" y="191.73" width="3.70" height="25.98" fill="#4c7db8"/><rect x="681.68" y="191.73" width="3.70" height="25.98" fill="#77b0d2"/><rect x="685.33" y="191.73" width="11.00" height="25.98" fill="#7fb6d6"/><rect x="696.28" y="191.73" width="3.70" height="25.98" fill="#89beda"/><rect x="699.93" y="191.73" width="3.70" height="25.98" fill="#cdeaf3"/><rect x="703.58" y="191.73" width="3.70" height="25.98" fill="#f2fad7"/><rect x="707.23" y="191.73" width="3.70" height="25.98" fill="#fcfec5"/><rect x="710.88" y="191.73" width="3.70" height="25.98" fill="#fedd8d"/><rect x="714.53" y="191.73" width="3.70" height="25.98" fill="#fff2ab"/><rect x="718.18" y="191.73" width="7.35" height="25.98" fill="#fff6b1"/><rect x="725.48" y="191.73" width="3.70" height="25.98" fill="#fff2ab"/><rect x="729.13" y="191.73" width="3.70" height="25.98" fill="#fed283"/><rect x="732.78" y="191.73" width="3.70" height="25.98" fill="#fec778"/><rect x="736.43" y="191.73" width="3.70" height="25.98" fill="#fdb063"/><rect x="740.08" y="191.73" width="3.70" height="25.98" fill="#fed989"/><rect x="743.73" y="191.73" width="11.00" height="25.98" fill="#fee090"/><rect x="754.68" y="191.73" width="3.70" height="25.98" fill="#fede8e"/><rect x="758.33" y="191.73" width="3.70" height="25.98" fill="#fdbe70"/><rect x="761.98" y="191.73" width="3.70" height="25.98" fill="#db392b"/><rect x="765.63" y="191.73" width="3.70" height="25.98" fill="#d02927"/><rect x="769.28" y="191.73" width="3.70" height="25.98" fill="#d83228"/><rect x="772.93" y="191.73" width="3.70" height="25.98" fill="#b50f26"/><rect x="776.58" y="191.73" width="11.00" height="25.98" fill="#af0a26"/><rect x="787.53" y="191.73" width="3.70" height="25.98" fill="#b20d26"/><rect x="791.18" y="191.73" width="3.70" height="25.98" fill="#ca2327"/><rect x="794.83" y="191.73" width="3.70" height="25.98" fill="#d32c27"/><rect x="798.48" y="191.73" width="3.70" height="25.98" fill="#eb593a"/><rect x="802.13" y="191.73" width="3.70" height="25.98" fill="#ee613d"/><rect x="805.78" y="191.73" width="3.70" height="25.98" fill="#ef623e"/><rect x="809.43" y="191.73" width="3.70" height="25.98" fill="#f36c42"/><rect x="813.08" y="191.73" width="3.70" height="25.98" fill="#f57547"/><rect x="816.73" y="191.73" width="3.70" height="25.98" fill="#fdae61"/><rect x="820.38" y="191.73" width="3.70" height="25.98" fill="#feda8a"/><rect x="824.03" y="191.73" width="7.35" height="25.98" fill="#fee090"/><rect x="831.33" y="191.73" width="3.70" height="25.98" fill="#fedd8d"/><rect x="834.98" y="191.73" width="3.70" height="25.98" fill="#fec778"/><rect x="838.63" y="191.73" width="3.70" height="25.98" fill="#fdb164"/><rect x="842.28" y="191.73" width="3.70" height="25.98" fill="#fdb467"/><rect x="845.93" y="191.73" width="3.70" height="25.98" fill="#fede8f"/><rect x="849.58" y="191.73" width="7.35" height="25.98" fill="#fee395"/><rect x="856.88" y="191.73" width="3.70" height="25.98" fill="#fee191"/><rect x="860.54" y="191.73" width="3.70" height="25.98" fill="#fec879"/><rect x="864.19" y="191.73" width="3.70" height="25.98" fill="#fdb668"/><rect x="867.84" y="191.73" width="3.70" height="25.98" fill="#fdb86b"/><rect x="871.49" y="191.73" width="3.70" height="25.98" fill="#feda8b"/><rect x="875.14" y="191.73" width="11.00" height="25.98" fill="#fee090"/><rect x="886.09" y="191.73" width="3.70" height="25.98" fill="#fede8e"/><rect x="889.74" y="191.73" width="3.70" height="25.98" fill="#fed384"/><rect x="893.39" y="191.73" width="3.70" height="25.98" fill="#fed989"/><rect x="897.04" y="191.73" width="3.70" height="25.98" fill="#fffdbc"/><rect x="900.69" y="191.73" width="7.35" height="25.98" fill="#e9f7e7"/><rect x="907.99" y="191.73" width="3.70" height="25.98" fill="#ffffbf"/><rect x="911.64" y="191.73" width="3.70" height="25.98" fill="#fee99e"/><rect x="915.29" y="191.73" width="7.35" height="25.98" fill="#fee699"/><rect x="922.59" y="191.73" width="3.70" height="25.98" fill="#fee598"/><rect x="926.24" y="191.73" width="3.70" height="25.98" fill="#fedd8d"/><rect x="929.89" y="191.73" width="3.70" height="25.98" fill="#fed687"/><rect x="933.54" y="191.73" width="3.70" height="25.98" fill="#fdb86a"/><rect x="937.19" y="191.73" width="3.70" height="25.98" fill="#fdb669"/><rect x="940.84" y="191.73" width="3.70" height="25.98" fill="#fec97a"/><rect x="944.49" y="191.73" width="3.70" height="25.98" fill="#fece80"/><rect x="948.14" y="191.73" width="3.70" height="25.98" fill="#fede8e"/><rect x="951.79" y="191.73" width="7.35" height="25.98" fill="#fee090"/><rect x="959.09" y="191.73" width="3.70" height="25.98" fill="#fee394"/><rect x="962.74" y="191.73" width="3.70" height="25.98" fill="#fee395"/><rect x="966.39" y="191.73" width="3.70" height="25.98" fill="#fee192"/><rect x="970.04" y="191.73" width="3.70" height="25.98" fill="#fede8e"/><rect x="973.69" y="191.73" width="3.70" height="25.98" fill="#e2f4f3"/><rect x="977.34" y="191.73" width="3.70" height="25.98" fill="#90c3dd"/><rect x="980.99" y="191.73" width="14.65" height="25.98" fill="#84bad8"/><rect x="995.59" y="191.73" width="3.70" height="25.98" fill="#82b8d7"/><rect x="999.24" y="191.73" width="3.70" height="25.98" fill="#76afd2"/><rect x="1002.89" y="191.73" width="7.35" height="25.98" fill="#74add1"/><rect x="1010.19" y="191.73" width="3.70" height="25.98" fill="#78b1d3"/><rect x="1013.84" y="191.73" width="3.70" height="25.98" fill="#96c8e0"/><rect x="1017.49" y="191.73" width="3.70" height="25.98" fill="#9acce2"/><rect x="1021.14" y="191.73" width="3.70" height="25.98" fill="#94c7df"/><rect x="1024.79" y="191.73" width="3.70" height="25.98" fill="#70a8ce"/><rect x="1028.44" y="191.73" width="7.35" height="25.98" fill="#6ba2cb"/><rect x="1035.74" y="191.73" width="3.70" height="25.98" fill="#6da5cd"/><rect x="1039.39" y="191.73" width="3.70" height="25.98" fill="#81b8d7"/><rect x="1043.04" y="191.73" width="3.70" height="25.98" fill="#81b7d7"/><rect x="1046.69" y="191.73" width="3.70" height="25.98" fill="#69a0ca"/><rect x="1050.34" y="191.73" width="11.00" height="25.98" fill="#669cc8"/><rect x="1061.29" y="191.73" width="3.70" height="25.98" fill="#6ca3cc"/><rect x="1064.94" y="191.73" width="3.70" height="25.98" fill="#94c7df"/><rect x="1068.59" y="191.73" width="3.70" height="25.98" fill="#9acce2"/><rect x="1072.24" y="191.73" width="3.70" height="25.98" fill="#98cae1"/><rect x="1075.89" y="191.73" width="3.70" height="25.98" fill="#87bcd9"/><rect x="1079.55" y="191.73" width="3.70" height="25.98" fill="#84bad8"/><rect x="1083.20" y="191.73" width="3.70" height="25.98" fill="#98cae1"/><rect x="1086.85" y="191.73" width="3.70" height="25.98" fill="#fdfec2"/><rect x="1090.50" y="191.73" width="3.70" height="25.98" fill="#fff4ae"/><rect x="1094.15" y="191.73" width="3.70" height="25.98" fill="#fee598"/><rect x="1097.80" y="191.73" width="11.00" height="25.98" fill="#fee395"/><rect x="1108.75" y="191.73" width="3.70" height="25.98" fill="#fee598"/><rect x="1112.40" y="191.73" width="7.35" height="25.98" fill="#fff4ae"/><rect x="1119.70" y="191.73" width="3.70" height="25.98" fill="#fee89c"/><rect x="1123.35" y="191.73" width="3.70" height="25.98" fill="#feea9f"/><rect x="1127.00" y="191.73" width="3.70" height="25.98" fill="#fdfec4"/><rect x="1130.65" y="191.73" width="11.00" height="25.98" fill="#f9fdca"/><rect x="1141.60" y="191.73" width="3.70" height="25.98" fill="#f9fdc9"/><rect x="1145.25" y="191.73" width="3.70" height="25.98" fill="#fdfec3"/><rect x="1148.90" y="191.73" width="3.70" height="25.98" fill="#f4fbd3"/><rect x="1152.55" y="191.73" width="11.00" height="25.98" fill="#f3fad6"/><rect x="1163.50" y="191.73" width="3.70" height="25.98" fill="#f4fbd3"/><rect x="1167.15" y="191.73" width="3.70" height="25.98" fill="#fdfec2"/><rect x="1170.80" y="191.73" width="3.70" height="25.98" fill="#ffffbf"/><rect x="1174.45" y="191.73" width="3.70" height="25.98" fill="#fbfec6"/><rect x="1178.10" y="191.73" width="3.70" height="25.98" fill="#e4f4f1"/><rect x="1181.75" y="191.73" width="3.70" height="25.98" fill="#e0f3f8"/>
<rect x="94.00" y="217.67" width="21.95" height="25.98" fill="#e0422f"/><rect x="115.90" y="217.67" width="3.70" height="25.98" fill="#dc3a2b"/><rect x="119.55" y="217.67" width="3.70" height="25.98" fill="#b10c26"/><rect x="123.20" y="217.67" width="29.25" height="25.98" fill="#aa0526"/><rect x="152.40" y="217.67" width="3.70" height="25.98" fill="#ad0826"/><rect x="156.05" y="217.67" width="3.70" height="25.98" fill="#c01a27"/><rect x="159.70" y="217.67" width="3.70" height="25.98" fill="#c61f27"/><rect x="163.35" y="217.67" width="3.70" height="25.98" fill="#d42e27"/><rect x="167.00" y="217.67" width="32.90" height="25.98" fill="#d73027"/><rect x="199.85" y="217.67" width="3.70" height="25.98" fill="#d73127"/><rect x="203.51" y="217.67" width="3.70" height="25.98" fill="#da352a"/><rect x="207.16" y="217.67" width="62.10" height="25.98" fill="#da362a"/><rect x="269.21" y="217.67" width="3.70" height="25.98" fill="#d73027"/><rect x="272.86" y="217.67" width="3.70" height="25.98" fill="#b91326"/><rect x="276.51" y="217.67" width="25.60" height="25.98" fill="#b40e26"/><rect x="302.06" y="217.67" width="3.70" height="25.98" fill="#b81226"/><rect x="305.71" y="217.67" width="3.70" height="25.98" fill="#d32c27"/><rect x="309.36" y="217.67" width="3.70" height="25.98" fill="#d83228"/><rect x="313.01" y="217.67" width="3.70" height="25.98" fill="#df402e"/><rect x="316.66" y="217.67" width="7.35" height="25.98" fill="#e0422f"/><rect x="323.96" y="217.67" width="3.70" height="25.98" fill="#de3f2e"/><rect x="327.61" y="217.67" width="3.70" height="25.98" fill="#d52e27"/><rect x="331.26" y="217.67" width="3.70" height="25.98" fill="#e64e35"/><rect x="334.91" y="217.67" width="11.00" height="25.98" fill="#e85538"/><rect x="345.86" y="217.67" width="3.70" height="25.98" fill="#e65036"/><rect x="349.51" y="217.67" width="3.70" height="25.98" fill="#d93429"/><rect x="353.16" y="217.67" width="3.70" height="25.98" fill="#d93529"/><rect x="356.81" y="217.67" width="3.70" height="25.98" fill="#ec5d3c"/><rect x="360.46" y="217.67" width="3.70" height="25.98" fill="#fa9a58"/><rect x="364.11" y="217.67" width="3.70" height="25.98" fill="#fdc678"/><rect x="367.76" y="217.67" width="14.65" height="25.98" fill="#fecc7d"/><rect x="382.36" y="217.67" width="3.70" height="25.98" fill="#fecf80"/><rect x="386.01" y="217.67" width="3.70" height="25.98" fill="#fee192"/><rect x="389.66" y="217.67" width="7.35" height="25.98" fill="#fee395"/><rect x="396.96" y="217.67" width="3.70" height="25.98" fill="#fee090"/><rect x="400.61" y="217.67" width="3.70" height="25.98" fill="#fdbe70"/><rect x="404.26" y="217.67" width="3.70" height="25.98" fill="#fdba6d"/><rect x="407.91" y="217.67" width="3.70" height="25.98" fill="#feca7b"/><rect x="411.56" y="217.67" width="3.70" height="25.98" fill="#fecc7d"/><rect x="415.21" y="217.67" width="3.70" height="25.98" fill="#fed282"/><rect x="418.86" y="217.67" width="3.70" height="25.98" fill="#feeca2"/><rect x="422.52" y="217.67" width="3.70" height="25.98" fill="#feefa7"/><rect x="426.17" y="217.67" width="3.70" height="25.98" fill="#feea9f"/><rect x="429.82" y="217.67" width="3.70" height="25.98" fill="#fee99e"/><rect x="433.47" y="217.67" width="3.70" height="25.98" fill="#fff1aa"/><rect x="437.12" y="217.67" width="3.70" height="25.98" fill="#cfebf3"/><rect x="440.77" y="217.67" width="3.70" height="25.98" fill="#a4d4e6"/><rect x="444.42" y="217.67" width="3.70" height="25.98" fill="#a0d0e4"/><rect x="448.07" y="217.67" width="3.70" height="25.98" fill="#a3d3e6"/><rect x="451.72" y="217.67" width="3.70" height="25.98" fill="#b8dfed"/><rect x="455.37" y="217.67" width="3.70" height="25.98" fill="#a7d5e7"/><rect x="459.02" y="217.67" width="3.70" height="25.98" fill="#3b54a4"/><rect x="462.67" y="217.67" width="11.00" height="25.98" fill="#333c98"/><rect x="473.62" y="217.67" width="3.70" height="25.98" fill="#35439c"/><rect x="477.27" y="217.67" width="3.70" height="25.98" fill="#4576b4"/><rect x="480.92" y="217.67" width="3.70" height="25.98" fill="#6ea6ce"/><rect x="484.57" y="217.67" width="3.70" height="25.98" fill="#6da5cd"/><rect x="488.22" y="217.67" width="3.70" height="25.98" fill="#4471b2"/><rect x="491.87" y="217.67" width="7.35" height="25.98" fill="#4168ae"/><rect x="499.17" y="217.67" width="3.70" height="25.98" fill="#426caf"/><rect x="502.82" y="217.67" width="3.70" height="25.98" fill="#5183bb"/><rect x="506.47" y="217.67" width="3.70" height="25.98" fill="#6aa1cb"/><rect x="510.12" y="217.67" width="3.70" height="25.98" fill="#4676b5"/><rect x="513.77" y="217.67" width="3.70" height="25.98" fill="#37499e"/><rect x="517.42" y="217.67" width="7.35" height="25.98" fill="#35439b"/><rect x="524.72" y="217.67" width="3.70" height="25.98" fill="#394ea1"/><rect x="528.37" y="217.67" width="3.70" height="25.98" fill="#5d92c3"/><rect x="532.02" y="217.67" width="3.70" height="25.98" fill="#6da5cd"/><rect x="535.67" y="217.67" width="3.70" height="25.98" fill="#97c9e0"/><rect x="539.32" y="217.67" width="3.70" height="25.98" fill="#5c91c2"/><rect x="542.97" y="217.67" width="3.70" height="25.98" fill="#578abf"/><rect x="546.62" y="217.67" width="3.70" height="25.98" fill="#70a9cf"/><rect x="550.27" y="217.67" width="3.70" height="25.98" fill="#7bb2d4"/><rect x="553.92" y="217.67" width="3.70" height="25.98" fill="#a4d4e6"/><rect x="557.57" y="217.67" width="3.70" height="25.98" fill="#a6d5e7"/><rect x="561.22" y="217.67" width="3.70" height="25.98" fill="#81b8d7"/><rect x="564.87" y="217.67" width="3.70" height="25.98" fill="#69a0ca"/><rect x="568.52" y="217.67" width="3.70" height="25.98" fill="#669cc8"/><rect x="572.17" y="217.67" width="3.70" height="25.98" fill="#70a9cf"/><rect x="575.82" y="217.67" width="3.70" height="25.98" fill="#cae8f2"/><rect x="579.47" y="217.67" width="3.70" height="25.98" fill="#fee99e"/><rect x="583.12" y="217.67" width="3.70" height="25.98" fill="#fee395"/><rect x="586.77" y="217.67" width="3.70" height="25.98" fill="#fff8b4"/><rect x="590.42" y="217.67" width="3.70" height="25.98" fill="#f8fccd"/><rect x="594.07" y="217.67" width="11.00" height="25.98" fill="#f6fbd0"/><rect x="605.02" y="217.67" width="3.70" height="25.98" fill="#f8fccc"/><rect x="608.67" y="217.67" width="3.70" height="25.98" fill="#fffcba"/><rect x="612.32" y="217.67" width="3.70" height="25.98" fill="#edf8e0"/><rect x="615.97" y="217.67" width="11.00" height="25.98" fill="#e9f7e7"/><rect x="626.92" y="217.67" width="3.70" height="25.98" fill="#f1f9d9"/><rect x="630.57" y="217.67" width="3.70" height="25.98" fill="#feda8a"/><rect x="634.22" y="217.67" width="3.70" height="25.98" fill="#fdb669"/><rect x="637.87" y="217.67" width="3.70" height="25.98" fill="#fdb86b"/><rect x="641.53" y="217.67" width="3.70" height="25.98" fill="#feda8b"/><rect x="645.18" y="217.67" width="3.70" height="25.98" fill="#fee090"/><rect x="648.83" y="217.67" width="3.70" height="25.98" fill="#fee79b"/><rect x="652.48" y="217.67" width="3.70" height="25.98" fill="#e7f6ea"/><rect x="656.13" y="217.67" width="3.70" height="25.98" fill="#e0f3f8"/><rect x="659.78" y="217.67" width="3.70" height="25.98" fill="#cce9f2"/><rect x="663.43" y="217.67" width="3.70" height="25.98" fill="#4d7fb9"/><rect x="667.08" y="217.67" width="3.70" height="25.98" fill="#4168ae"/><rect x="670.73" y="217.67" width="3.70" height="25.98" fill="#4064ac"/><rect x="674.38" y="217.67" width="3.70" height="25.98" fill="#36479d"/><rect x="678.03" y="217.67" width="7.35" height="25.98" fill="#35439b"/><rect x="685.33" y="217.67" width="3.70" height="25.98" fill="#35419b"/><rect x="688.98" y="217.67" width="3.70" height="25.98" fill="#313796"/><rect x="692.63" y="217.67" width="11.00" height="25.98" fill="#313695"/><rect x="703.58" y="217.67" width="3.70" height="25.98" fill="#333c98"/><rect x="707.23" y="217.67" width="3.70" height="25.98" fill="#3f62ab"/><rect x="710.88" y="217.67" width="3.70" height="25.98" fill="#436fb1"/><rect x="714.53" y="217.67" width="3.70" height="25.98" fill="#6196c5"/><rect x="718.18" y="217.67" width="3.70" height="25.98" fill="#6298c6"/><rect x="721.83" y="217.67" width="3.70" height="25.98" fill="#4979b6"/><rect x="725.48" y="217.67" width="3.70" height="25.98" fill="#4575b4"/><rect x="729.13" y="217.67" width="3.70" height="25.98" fill="#4b7cb7"/><rect x="732.78" y="217.67" width="3.70" height="25.98" fill="#6ea6ce"/><rect x="736.43" y="217.67" width="3.70" height="25.98" fill="#72abd0"/><rect x="740.08" y="217.67" width="3.70" height="25.98" fill="#649ac7"/><rect x="743.73" y="217.67" width="3.70" height="25.98" fill="#4d7fb9"/><rect x="747.38" y="217.67" width="3.70" height="25.98" fill="#4a7bb7"/><rect x="751.03" y="217.67" width="3.70" height="25.98" fill="#4d7fb9"/><rect x="754.68" y="217.67" width="3.70" height="25.98" fill="#6ca4cc"/><rect x="758.33" y="217.67" width="3.70" height="25.98" fill="#c2e4ef"/><rect x="761.98" y="217.67" width="3.70" height="25.98" fill="#f1fad8"/><rect x="765.63" y="217.67" width="3.70" height="25.98" fill="#f6fbd0"/><rect x="769.28" y="217.67" width="3.70" height="25.98" fill="#fdfec4"/><rect x="772.93" y="217.67" width="3.70" height="25.98" fill="#fed283"/><rect x="776.58" y="217.67" width="3.70" height="25.98" fill="#fec778"/><rect x="780.23" y="217.67" width="3.70" height="25.98" fill="#fdbe70"/><rect x="783.88" y="217.67" width="3.70" height="25.98" fill="#f46e44"/><rect x="787.53" y="217.67" width="3.70" height="25.98" fill="#d02927"/><rect x="791.18" y="217.67" width="3.70" height="25.98" fill="#ca2427"/><rect x="794.83" y="217.67" width="3.70" height="25.98" fill="#d52e27"/><rect x="798.48" y="217.67" width="3.70" height="25.98" fill="#d42d27"/><rect x="802.13" y="217.67" width="3.70" height="25.98" fill="#bc1726"/><rect x="805.78" y="217.67" width="3.70" height="25.98" fill="#b81226"/><rect x="809.43" y="217.67" width="3.70" height="25.98" fill="#b00b26"/><rect x="813.08" y="217.67" width="3.70" height="25.98" fill="#b40e26"/><rect x="816.73" y="217.67" width="3.70" height="25.98" fill="#d22b27"/><rect x="820.38" y="217.67" width="21.95" height="25.98" fill="#d73027"/><rect x="842.28" y="217.67" width="3.70" height="25.98" fill="#da372a"/><rect x="845.93" y="217.67" width="3.70" height="25.98" fill="#f16640"/><rect x="849.58" y="217.67" width="3.70" height="25.98" fill="#f46d43"/><rect x="853.23" y="217.67" width="3.70" height="25.98" fill="#f47044"/><rect x="856.88" y="217.67" width="3.70" height="25.98" fill="#f57748"/><rect x="860.54" y="217.67" width="3.70" height="25.98" fill="#d63027"/><rect x="864.19" y="217.67" width="3.70" height="25.98" fill="#d02927"/><rect x="867.84" y="217.67" width="3.70" height="25.98" fill="#db392b"/><rect x="871.49" y="217.67" width="11.00" height="25.98" fill="#dd3c2d"/><rect x="882.44" y="217.67" width="3.70" height="25.98" fill="#dc3b2c"/><rect x="886.09" y="217.67" width="3.70" height="25.98" fill="#d42e27"/><rect x="889.74" y="217.67" width="3.70" height="25.98" fill="#bc1726"/><rect x="893.39" y="217.67" width="3.70" height="25.98" fill="#c01927"/><rect x="897.04" y="217.67" width="3.70" height="25.98" fill="#e24731"/><rect x="900.69" y="217.67" width="11.00" height="25.98" fill="#e64e35"/><rect x="911.64" y="217.67" width="3.70" height="25.98" fill="#e54d34"/><rect x="915.29" y="217.67" width="3.70" height="25.98" fill="#e04430"/><rect x="918.94" y="217.67" width="3.70" height="25.98" fill="#e0422f"/><rect x="922.59" y="217.67" width="3.70" height="25.98" fill="#e14531"/><rect x="926.24" y="217.67" width="3.70" height="25.98" fill="#e75237"/><rect x="929.89" y="217.67" width="7.35" height="25.98" fill="#e85538"/><rect x="937.19" y="217.67" width="3.70" height="25.98" fill="#e54e35"/><rect x="940.84" y="217.67" width="3.70" height="25.98" fill="#ce2727"/><rect x="944.49" y="217.67" width="3.70" height="25.98" fill="#ce2827"/><rect x="948.14" y="217.67" width="3.70" height="25.98" fill="#ea593a"/><rect x="951.79" y="217.67" width="3.70" height="25.98" fill="#ee613d"/><rect x="955.44" y="217.67" width="3.70" height="25.98" fill="#f26841"/><rect x="959.09" y="217.67" width="3.70" height="25.98" fill="#fa9957"/><rect x="962.74" y="217.67" width="3.70" height="25.98" fill="#fba15b"/><rect x="966.39" y="217.67" width="3.70" height="25.98" fill="#fa9a58"/><rect x="970.04" y="217.67" width="3.70" height="25.98" fill="#f88850"/><rect x="973.69" y="217.67" width="3.70" height="25.98" fill="#feeca2"/><rect x="977.34" y="217.67" width="11.00" height="25.98" fill="#fff6b1"/><rect x="988.29" y="217.67" width="3.70" height="25.98" fill="#fff7b3"/><rect x="991.94" y="217.67" width="3.70" height="25.98" fill="#fffebd"/><rect x="995.59" y="217.67" width="3.70" height="25.98" fill="#fbfec6"/><rect x="999.24" y="217.67" width="3.70" height="25.98" fill="#e4f4f1"/><rect x="1002.89" y="217.67" width="7.35" height="25.98" fill="#e0f3f8"/><rect x="1010.19" y="217.67" width="3.70" height="25.98" fill="#e2f4f4"/><rect x="1013.84" y="217.67" width="3.70" height="25.98" fill="#f0f9da"/><rect x="1017.49" y="217.67" width="3.70" height="25.98" fill="#f3fad6"/><rect x="1021.14" y="217.67" width="3.70" height="25.98" fill="#f0f9da"/><rect x="1024.79" y="217.67" width="3.70" height="25.98" fill="#e2f4f4"/><rect x="1028.44" y="217.67" width="3.70" height="25.98" fill="#dcf1f7"/><rect x="1032.09" y="217.67" width="3.70" height="25.98" fill="#c4e5f0"/><rect x="1035.74" y="217.67" width="3.70" height="25.98" fill="#c0e3ef"/><rect x="1039.39" y="217.67" width="3.70" height="25.98" fill="#c4e5f0"/><rect x="1043.04" y="217.67" width="3.70" height="25.98" fill="#d4edf5"/><rect x="1046.69" y="217.67" width="3.70" height="25.98" fill="#a8d6e8"/><rect x="1050.34" y="217.67" width="3.70" height="25.98" fill="#9dcee3"/><rect x="1053.99" y="217.67" width="3.70" height="25.98" fill="#88bdda"/><rect x="1057.64" y="217.67" width="3.70" height="25.98" fill="#84bad8"/><rect x="1061.29" y="217.67" width="3.70" height="25.98" fill="#90c3dd"/><rect x="1064.94" y="217.67" width="3.70" height="25.98" fill="#dcf1f7"/><rect x="1068.59" y="217.67" width="7.35" height="25.98" fill="#fbfec6"/><rect x="1075.89" y="217.67" width="3.70" height="25.98" fill="#e4f4f1"/><rect x="1079.55" y="217.67" width="3.70" height="25.98" fill="#e0f3f8"/><rect x="1083.20" y="217.67" width="3.70" height="25.98" fill="#d9eff6"/><rect x="1086.85" y="217.67" width="3.70" height="25.98" fill="#b0dbea"/><rect x="1090.50" y="217.67" width="3.70" height="25.98" fill="#d9eff6"/><rect x="1094.15" y="217.67" width="3.70" height="25.98" fill="#e2f4f5"/><rect x="1097.80" y="217.67" width="3.70" height="25.98" fill="#ecf8e2"/><rect x="1101.45" y="217.67" width="3.70" height="25.98" fill="#e2f4f5"/><rect x="1105.10" y="217.67" width="7.35" height="25.98" fill="#e0f3f8"/><rect x="1112.40" y="217.67" width="3.70" height="25.98" fill="#e6f5ee"/><rect x="1116.05" y="217.67" width="3.70" height="25.98" fill="#fff5b0"/><rect x="1119.70" y="217.67" width="3.70" height="25.98" fill="#fff3ad"/><rect x="1123.35" y="217.67" width="3.70" height="25.98" fill="#eaf7e6"/><rect x="1127.00" y="217.67" width="3.70" height="25.98" fill="#7db4d5"/><rect x="1130.65" y="217.67" width="3.70" height="25.98" fill="#4471b2"/><rect x="1134.30" y="217.67" width="3.70" height="25.98" fill="#4064ac"/><rect x="1137.95" y="217.67" width="7.35" height="25.98" fill="#36479d"/><rect x="1145.25" y="217.67" width="3.70" height="25.98" fill="#3e5ea9"/><rect x="1148.90" y="217.67" width="3.70" height="25.98" fill="#333c98"/><rect x="1152.55" y="217.67" width="14.65" height="25.98" fill="#313695"/><rect x="1167.15" y="217.67" width="3.70" height="25.98" fill="#333e99"/><rect x="1170.80" y="217.67" width="3.70" height="25.98" fill="#436db0"/><rect x="1174.45" y="217.67" width="3.70" height="25.98" fill="#436fb1"/><rect x="1178.10" y="217.67" width="3.70" height="25.98" fill="#37499e"/><rect x="1181.75" y="217.67" width="3.70" height="25.98" fill="#35439b"/>
<rect x="94" y="139.87" width="1.7" height="25.93" fill="#ee8a63"/></g>
<text class="tk" x="92.6" y="104.8" text-anchor="end">&gt;10k</text><text class="tk" x="92.6" y="130.7" text-anchor="end">1k-10k</text><text class="tk" x="92.6" y="156.6" text-anchor="end">100-1k</text><text class="tk" x="92.6" y="182.6" text-anchor="end">10-100</text><text class="tk" x="92.6" y="208.5" text-anchor="end">1-10</text><text class="tk" x="92.6" y="234.4" text-anchor="end">&lt;1</text>
<text class="ax" transform="translate(39.5,166) rotate(-90)" text-anchor="middle">Cohorts by BTC</text>
<rect x="94.0" y="299.0" width="1091.4" height="154.5" fill="#e5ecf6"/>
<rect x="172.00" y="299.0" width="1.1" height="154.5" fill="#fff" fill-opacity="0.62"/><text class="tk" x="172.5" y="465.6" text-anchor="middle">Mar 2025</text>
<rect x="285.15" y="299.0" width="1.1" height="154.5" fill="#fff" fill-opacity="0.62"/><text class="tk" x="285.6" y="465.6" text-anchor="middle">Apr 2025</text>
<rect x="394.65" y="299.0" width="1.1" height="154.5" fill="#fff" fill-opacity="0.62"/><text class="tk" x="395.1" y="465.6" text-anchor="middle">May 2025</text>
<rect x="507.80" y="299.0" width="1.1" height="154.5" fill="#fff" fill-opacity="0.62"/><text class="tk" x="508.3" y="465.6" text-anchor="middle">Jun 2025</text>
<rect x="617.30" y="299.0" width="1.1" height="154.5" fill="#fff" fill-opacity="0.62"/><text class="tk" x="617.8" y="465.6" text-anchor="middle">Jul 2025</text>
<rect x="730.45" y="299.0" width="1.1" height="154.5" fill="#fff" fill-opacity="0.62"/><text class="tk" x="730.9" y="465.6" text-anchor="middle">Aug 2025</text>
<rect x="843.60" y="299.0" width="1.1" height="154.5" fill="#fff" fill-opacity="0.62"/><text class="tk" x="844.1" y="465.6" text-anchor="middle">Sep 2025</text>
<rect x="953.10" y="299.0" width="1.1" height="154.5" fill="#fff" fill-opacity="0.62"/><text class="tk" x="953.6" y="465.6" text-anchor="middle">Oct 2025</text>
<rect x="1066.25" y="299.0" width="1.1" height="154.5" fill="#fff" fill-opacity="0.62"/><text class="tk" x="1066.8" y="465.6" text-anchor="middle">Nov 2025</text>
<rect x="1175.75" y="299.0" width="1.1" height="154.5" fill="#fff" fill-opacity="0.62"/><text class="tk" x="1176.2" y="465.6" text-anchor="middle">Dec 2025</text>
<rect x="94.0" y="434.70" width="1091.4" height="1.1" fill="#fff" fill-opacity="0.62"/><text class="tk" x="92.6" y="439.0" text-anchor="end">80k</text>
<rect x="94.0" y="405.90" width="1091.4" height="1.1" fill="#fff" fill-opacity="0.62"/><text class="tk" x="92.6" y="410.2" text-anchor="end">90k</text>
<rect x="94.0" y="377.10" width="1091.4" height="1.1" fill="#fff" fill-opacity="0.62"/><text class="tk" x="92.6" y="381.4" text-anchor="end">100k</text>
<rect x="94.0" y="348.30" width="1091.4" height="1.1" fill="#fff" fill-opacity="0.62"/><text class="tk" x="92.6" y="352.6" text-anchor="end">110k</text>
<rect x="94.0" y="319.50" width="1091.4" height="1.1" fill="#fff" fill-opacity="0.62"/><text class="tk" x="92.6" y="323.8" text-anchor="end">120k</text>
<text class="ax" transform="translate(49.3,376.4) rotate(-90)" text-anchor="middle">Price</text>
<text x="474.5" y="180.0" opacity="0.085" style="font-family:'DejaVu Sans','Liberation Sans',sans-serif;font-size:65.5px;letter-spacing:-0.2px;fill:#10131c;stroke:#10131c;stroke-width:2.0px;stroke-linejoin:round">glassnode</text>
<text x="474.5" y="399.5" opacity="0.105" style="font-family:'DejaVu Sans','Liberation Sans',sans-serif;font-size:65.5px;letter-spacing:-0.2px;fill:#10131c;stroke:#10131c;stroke-width:2.0px;stroke-linejoin:round">glassnode</text>
<polyline points="95.8,387.9 99.5,388.3 103.2,385.2 106.8,390.1 110.5,383.5 114.1,387.0 117.8,384.8 121.4,384.8 125.0,388.6 128.7,389.4 132.3,390.3 136.0,387.3 139.7,382.0 143.3,388.6 146.9,387.7 150.6,388.6 154.2,401.7 157.9,410.5 161.6,423.4 165.2,422.4 168.8,423.1 172.5,418.0 176.2,394.6 179.8,416.8 183.4,414.3 187.1,404.6 190.8,406.7 194.4,415.5 198.1,417.4 201.7,432.5 205.3,439.1 209.0,427.4 212.7,424.9 216.3,431.6 219.9,423.7 223.6,423.1 227.2,427.7 230.9,423.9 234.6,427.4 238.2,416.4 241.8,423.1 245.5,423.7 249.2,424.3 252.8,417.4 256.4,413.9 260.1,413.9 263.8,415.1 267.4,414.5 271.1,422.3 274.7,427.3 278.4,428.5 282.0,428.2 285.6,421.0 289.3,428.2 292.9,426.4 296.6,424.4 300.2,425.1 303.9,439.8 307.6,437.9 311.2,445.7 314.9,428.5 318.5,436.1 322.1,425.4 325.8,420.1 329.4,424.4 333.1,422.3 336.8,424.8 340.4,423.9 344.1,421.3 347.7,422.6 351.4,421.0 355.0,420.6 358.6,413.5 362.3,396.6 365.9,395.9 369.6,394.7 373.2,393.0 376.9,393.0 380.6,395.9 384.2,392.5 387.9,394.3 391.5,394.7 395.1,387.8 398.8,386.5 402.4,389.6 406.1,393.8 409.8,392.5 413.4,386.8 417.1,385.8 420.7,368.6 424.4,368.9 428.0,364.1 431.6,365.7 435.3,369.9 438.9,365.7 442.6,367.6 446.2,366.6 449.9,367.6 453.6,368.6 457.2,358.8 460.9,361.4 464.5,357.6 468.1,350.1 471.8,344.4 475.4,356.3 479.1,355.1 482.8,351.9 486.4,350.7 490.1,351.9 493.7,355.1 497.4,360.7 501.0,365.7 504.6,364.5 508.3,361.6 511.9,360.7 515.6,361.6 519.2,364.5 522.9,372.6 526.5,365.7 530.2,362.0 533.9,361.1 537.5,347.9 541.1,347.9 544.8,353.2 548.5,361.1 552.1,360.1 555.8,361.6 559.4,361.1 563.0,358.0 566.7,364.5 570.4,363.9 574.0,364.5 577.6,368.1 581.3,371.8 585.0,375.0 588.6,361.8 592.2,359.3 595.9,356.4 599.5,357.1 603.2,356.8 606.9,356.1 610.5,353.4 614.1,357.4 617.8,361.2 621.5,352.4 625.1,349.9 628.8,354.6 632.4,353.9 636.0,351.1 639.7,353.9 643.4,352.1 647.0,344.9 650.6,331.7 654.3,327.5 658.0,327.3 661.6,322.5 665.2,320.4 668.9,326.7 672.5,323.8 676.2,322.0 679.9,325.8 683.5,326.3 687.1,327.9 690.8,327.5 694.5,319.8 698.1,323.3 701.8,324.8 705.4,327.0 709.0,325.8 712.7,321.3 716.4,325.0 720.0,325.8 723.6,326.3 727.3,332.9 731.0,339.2 734.6,341.1 738.2,336.4 741.9,334.1 745.5,336.6 749.2,333.9 752.9,327.4 756.5,329.5 760.1,330.1 763.8,321.7 767.5,323.6 771.1,318.8 774.8,311.0 778.4,324.8 782.0,327.0 785.7,327.2 789.4,327.0 793.0,330.7 796.6,340.4 800.3,336.6 804.0,341.1 807.6,329.5 811.2,333.2 814.9,338.9 818.5,347.7 822.2,343.7 825.9,344.5 829.5,341.4 833.1,353.3 836.8,352.4 840.5,353.9 844.1,350.8 847.8,345.4 851.4,343.9 855.0,346.7 858.7,347.1 862.4,347.9 866.0,345.8 869.6,343.3 873.3,344.2 877.0,337.4 880.6,332.6 884.2,331.1 887.9,331.6 891.5,333.2 895.2,332.9 898.9,329.2 902.5,330.1 906.1,328.6 909.8,332.4 913.5,332.4 917.1,334.1 920.8,340.8 924.4,342.9 928.0,339.1 931.7,351.2 935.4,349.8 939.0,349.9 942.6,343.3 946.3,336.4 950.0,337.0 953.6,323.6 957.2,318.2 960.9,313.6 964.5,312.6 968.2,309.4 971.9,306.0 975.5,315.3 979.1,310.3 982.8,315.3 986.5,340.1 990.1,346.2 993.8,333.9 997.4,333.6 1001.0,340.1 1004.7,346.4 1008.4,353.7 1012.0,359.0 1015.6,357.1 1019.3,352.1 1023.0,347.1 1026.6,353.7 1030.2,355.8 1033.9,348.9 1037.5,345.8 1041.2,343.9 1044.8,335.8 1048.5,337.0 1052.2,340.1 1055.8,345.8 1059.5,353.6 1063.1,350.1 1066.8,348.2 1070.4,346.9 1074.0,360.1 1077.7,372.7 1081.3,366.6 1085.0,373.7 1088.7,368.3 1092.3,370.8 1096.0,363.9 1099.6,360.1 1103.2,368.9 1106.9,372.7 1110.5,378.3 1114.2,392.7 1117.8,390.5 1121.5,393.9 1125.2,399.6 1128.8,398.0 1132.5,402.6 1136.1,416.4 1139.8,420.2 1143.4,421.5 1147.0,415.6 1150.7,411.4 1154.3,413.9 1158.0,404.9 1161.7,402.6 1165.3,403.6 1169.0,403.9 1172.6,405.1 1176.2,416.4 1179.9,402.6 1183.5,396.7" fill="none" stroke="#777b83" stroke-width="1.8" stroke-linejoin="round"/>
<rect x="1216.2" y="97.2" width="26" height="348" fill="url(#cb)"/>
<text class="tk" x="1245.6" y="449.0">0</text><text class="tk" x="1245.6" y="379.4">0.2</text><text class="tk" x="1245.6" y="309.8">0.4</text><text class="tk" x="1245.6" y="240.2">0.6</text><text class="tk" x="1245.6" y="170.6">0.8</text><text class="tk" x="1245.6" y="101.0">1</text>
<text class="ft" x="96.2" y="494.8">Based on data from 2025-12-04</text>
<text class="ft" x="1182.8" y="494.8" text-anchor="end">© 2025 Glassnode. All Rights Reserved</text>
</svg></body></html>
